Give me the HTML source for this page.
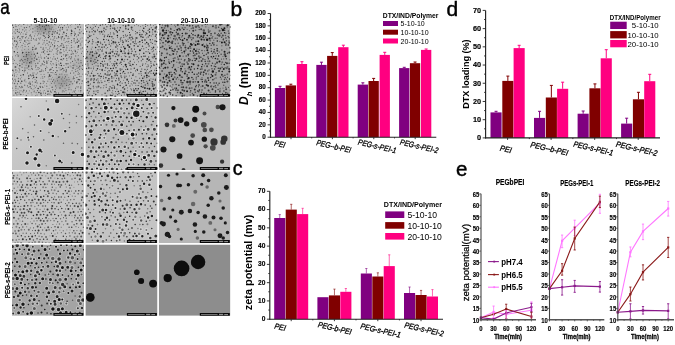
<!DOCTYPE html>
<html><head><meta charset="utf-8"><style>
html,body{margin:0;padding:0;background:#fff;}
svg{display:block;}
text{font-family:"Liberation Sans", sans-serif;}
svg{will-change:transform;}
</style></head><body>
<svg width="675" height="345" viewBox="0 0 675 345">
<rect width="675" height="345" fill="#fff"/>
<defs><filter id="bl2" x="-50%" y="-50%" width="200%" height="200%"><feGaussianBlur stdDeviation="3"/></filter><filter id="bl1" x="-50%" y="-50%" width="200%" height="200%"><feGaussianBlur stdDeviation="0.6"/></filter><filter id="bl15" x="-50%" y="-50%" width="200%" height="200%"><feGaussianBlur stdDeviation="0.7"/></filter><linearGradient id="g10" x1="0" y1="0" x2="1" y2="1"><stop offset="0" stop-color="#fff" stop-opacity="0.2"/><stop offset="1" stop-color="#000" stop-opacity="0.06"/></linearGradient><clipPath id="c00"><rect x="12" y="24" width="72" height="72.8"/></clipPath><clipPath id="c01"><rect x="85.4" y="24" width="72.1" height="72.8"/></clipPath><clipPath id="c02"><rect x="158.8" y="24" width="71.6" height="72.8"/></clipPath><clipPath id="c10"><rect x="12" y="98" width="72" height="72.1"/></clipPath><clipPath id="c11"><rect x="85.4" y="98" width="72.1" height="72.1"/></clipPath><clipPath id="c12"><rect x="158.8" y="98" width="71.6" height="72.1"/></clipPath><clipPath id="c20"><rect x="12" y="171.4" width="72" height="71.8"/></clipPath><clipPath id="c21"><rect x="85.4" y="171.4" width="72.1" height="71.8"/></clipPath><clipPath id="c22"><rect x="158.8" y="171.4" width="71.6" height="71.8"/></clipPath><clipPath id="c30"><rect x="12" y="244.5" width="72" height="71.3"/></clipPath><clipPath id="c31"><rect x="85.4" y="244.5" width="72.1" height="71.3"/></clipPath><clipPath id="c32"><rect x="158.8" y="244.5" width="71.6" height="71.3"/></clipPath></defs><g clip-path="url(#c00)"><rect x="12" y="24" width="72" height="72.8" fill="#bfbfbf" /><ellipse cx="44" cy="27" rx="9" ry="5" fill="#444" opacity="0.5" filter="url(#bl2)"/><ellipse cx="28" cy="58" rx="7" ry="8" fill="#444" opacity="0.3" filter="url(#bl2)"/><ellipse cx="62" cy="82" rx="9" ry="7" fill="#444" opacity="0.28" filter="url(#bl2)"/><ellipse cx="78" cy="64" rx="6" ry="6" fill="#444" opacity="0.15" filter="url(#bl2)"/><path d="M12.44 25.27h0M23.76 24.25h0M48.47 25.41h0M54.78 24.17h0M79.59 24.62h0M71.48 30.15h0M75.28 28.57h0M19.13 32.18h0M52.9 31.81h0M25.95 34.21h0M79.84 32.98h0M83.39 33.49h0M18.17 36.39h0M22.11 36.68h0M30.04 35.84h0M62.48 36.81h0M58.72 37.45h0M61.36 38.04h0M74.11 38.82h0M78.79 41.01h0M38.97 43.23h0M49.33 42.05h0M61.83 43.77h0M16.65 44.73h0M60.93 45.86h0M32.84 47.52h0M32.64 49.58h0M60.69 49.46h0M28.8 52.5h0M61.04 52.69h0M75.44 51.54h0M34.34 54.35h0M18.21 55.96h0M27.69 58.83h0M44.52 57.96h0M55.25 59.12h0M63.54 58.83h0M78.12 59.33h0M31.13 61.79h0M42.26 64.1h0M66.11 63.77h0M79.75 66.21h0M68.27 67.31h0M24.91 70.26h0M49.81 70.07h0M50.95 69.25h0M57 70.76h0M66.39 70.03h0M40.04 71.62h0M66 71.65h0M12.38 75.27h0M30.38 74.92h0M28.64 76.06h0M12.34 79.12h0M78.29 79.43h0M79.54 79.8h0M30.13 86.71h0M52.15 87.23h0M59.98 87.92h0M80.72 88.09h0M23.77 90.22h0M20.8 94.56h0M47.82 94.13h0" stroke="#555" stroke-width="1.5" stroke-linecap="round"/><path d="M15.67 24.84h0M19.78 24.19h0M40.74 24.94h0M59.59 25.23h0M75.73 24.6h0M14.1 31.81h0M21.53 32.41h0M24.62 31.18h0M57.76 30.68h0M74.26 32.01h0M20.43 33.99h0M78.24 34.69h0M13.02 36.75h0M26.58 36.8h0M68.22 36.65h0M71.15 35.66h0M22.56 38.02h0M31.5 38.43h0M36.52 38.85h0M82.17 38h0M19.71 40.48h0M39.74 39.73h0M23.33 43.3h0M29.91 43.12h0M65.19 42.53h0M42.83 44.24h0M45.54 45.05h0M28.53 46.55h0M53.99 47.92h0M62.82 47.47h0M17.11 48.92h0M36.4 48.92h0M49.49 48.79h0M63.6 49.96h0M75.52 50.37h0M78.1 49.59h0M41.74 52.28h0M64.1 51.61h0M77.51 52.2h0M17.05 54.39h0M22.3 53.36h0M44.82 53.77h0M59.98 53.69h0M67.95 54.85h0M15.64 55.75h0M46.54 56.59h0M78.26 55.64h0M74.46 58.98h0M58.64 61.13h0M16.01 63.38h0M50.4 63.77h0M56.13 62.92h0M58.84 64h0M26.05 65.3h0M31.53 66.35h0M74.86 65.07h0M14.71 67.01h0M39.55 68.32h0M59.99 67.88h0M65.8 67.68h0M77.08 68.35h0M28.83 69.38h0M72.11 70.7h0M75.33 69.66h0M79.39 69.32h0M37.5 72.95h0M41.58 71.41h0M44.05 74.44h0M75.14 75.28h0M82.73 74.19h0M42.27 76.69h0M59.82 76.7h0M62.5 77.1h0M32.76 78.63h0M64.51 78.33h0M13.5 80.89h0M74.39 81.11h0M59.04 83.33h0M64.32 83.44h0M79.43 83.69h0M81.82 83.56h0M32.3 84.98h0M36.52 85.86h0M42.29 86.59h0M18.04 88.91h0M28.28 87.43h0M35.29 87.61h0M65.08 88.68h0M15.95 90.4h0M20.99 90.81h0M40.24 90.73h0M55.58 89.66h0M65.97 90.57h0M43.45 93.02h0M62.25 91.91h0M19.04 94.12h0M40.47 94.9h0M56.01 94.76h0M64.09 95.03h0" stroke="#666" stroke-width="1" stroke-linecap="round"/><path d="M18.51 25.59h0M51.54 24.77h0M55.9 24.95h0M70.26 25.46h0M77.44 24.22h0M21.13 26.15h0M35.05 27.41h0M49.39 26.94h0M12.02 30h0M19.56 28.97h0M30.71 29.17h0M53.83 29.8h0M26.87 32.25h0M35.1 31.09h0M45.33 31.14h0M79.08 32.36h0M81.31 31.58h0M12.47 33.18h0M23.14 33.94h0M23.61 36.64h0M37.54 35.3h0M76.49 36.76h0M67.61 38.71h0M80.3 38.94h0M61.42 39.79h0M66.3 41.46h0M82.12 40.96h0M26.05 42.38h0M67.3 41.98h0M81.91 42.17h0M13.44 45.02h0M24.98 44.68h0M38 44.34h0M18.52 46.67h0M49.81 47.1h0M21.92 50.11h0M24.7 49.44h0M28.54 49.37h0M74.21 50.2h0M31 51.96h0M67.34 52.52h0M82.29 51.31h0M40.54 55.02h0M53.49 54.28h0M56.12 53.37h0M76.11 53.29h0M30.81 56.67h0M41.65 58.34h0M50.43 57.81h0M68.86 57.84h0M56.64 60.58h0M19.68 63.43h0M76.64 62.39h0M46.26 66.22h0M51.74 65.01h0M59.37 65.1h0M70.1 65.92h0M71.01 66.92h0M36.17 69.74h0M13.67 71.81h0M34.06 72.9h0M63.04 71.89h0M78.42 72.55h0M41.03 74.44h0M51.13 75.36h0M68.75 77.55h0M81.09 76.58h0M24.97 79.38h0M35.03 79.49h0M25.97 81.95h0M68.97 81.42h0M77.99 81.27h0M36.77 82.8h0M37.61 83.05h0M46.63 83.61h0M60.78 85.56h0M68.15 85.5h0M78.35 86.64h0M49.09 88.63h0M56.59 87.96h0M78.05 87.71h0M29.48 90.82h0M44.46 90.45h0M75.53 90.29h0M19.47 92.72h0M28.03 93.28h0M48.98 93.48h0M31.99 95.03h0M35.4 95.6h0M45.26 95.52h0M60.02 95.41h0M68.02 95.61h0M70.14 95.15h0" stroke="#777" stroke-width="1" stroke-linecap="round"/><path d="M27.5 25.05h0M66.25 27.55h0M70.98 27.06h0M44.22 29.34h0M55.99 28.78h0M83.06 30.05h0M29.22 30.7h0M41.55 31.44h0M35.23 33.77h0M70.46 33.96h0M44.61 38.41h0M42.54 39.97h0M76.93 40.22h0M69.08 43.48h0M50.22 44.96h0M68.16 45.57h0M20.77 47.01h0M22.55 47.81h0M70.03 48.07h0M74.11 46.99h0M33.41 51.85h0M51.39 51.59h0M18.82 55.08h0M66.67 55.72h0M39.27 59.39h0M12.96 61.03h0M25.74 61.09h0M48.59 60.37h0M62.47 60.15h0M73.96 63.79h0M53.8 64.69h0M66.42 64.92h0M58.37 67.81h0M81.73 68.55h0M17.32 70.88h0M30.1 69.87h0M17.2 74.64h0M54.29 74.24h0M16.49 76.41h0M21.37 77.31h0M52.59 77.42h0M40.82 78.23h0M50.29 81.8h0M44.72 85.8h0M49.99 85.19h0M34.07 88.63h0M46.92 88.85h0M13.17 90.56h0M19.43 90.92h0M32.92 89.66h0M34.27 90.58h0M43.24 90.99h0M78.76 90.89h0M25.73 92.28h0M66.26 93.16h0M72.3 92.21h0M80.35 92.02h0M23.32 94.45h0" stroke="#8a8a8a" stroke-width="1" stroke-linecap="round"/><path d="M31.22 24.9h0M13.38 27.43h0M16 26.63h0M26.72 27.46h0M37.12 26.52h0M42.57 26.33h0M58.49 27.2h0M60.4 27.75h0M80.58 27.18h0M17.43 29.79h0M22.82 29.77h0M32.89 28.79h0M51.14 29.12h0M59.92 29.91h0M79.72 29.79h0M17.31 31.58h0M48.41 32.03h0M49 33.93h0M66.55 33.63h0M31.32 36.94h0M48.43 35.65h0M49.38 36.39h0M58.62 36.47h0M74.52 35.63h0M78.23 35.29h0M17.56 37.75h0M20.01 38.54h0M25.37 37.8h0M33.62 38.79h0M38.91 38.25h0M45.67 37.68h0M77.48 39.17h0M31.15 40.26h0M44.27 40.73h0M53.08 39.9h0M58.09 41.5h0M71.44 40.6h0M12.01 43.78h0M17.47 43.01h0M47.06 43.41h0M51.3 42.89h0M75.3 42.98h0M52.42 44.78h0M63.27 45.15h0M40.93 47.29h0M66.86 47.89h0M82.36 47.93h0M66.1 50.12h0M69.24 50.33h0M17.64 52.44h0M26.18 52.36h0M47.15 51.77h0M57.19 51.88h0M59.9 52.17h0M57.17 54.21h0M23.81 56.52h0M35.42 56.06h0M61.43 56.41h0M65.4 56.14h0M83.48 56.49h0M12.97 59.05h0M24.99 59.5h0M31.96 58.86h0M57.54 58.22h0M22.75 60.76h0M34.19 60.72h0M72.53 61.4h0M22.11 64.11h0M23.96 62.42h0M82.54 65.4h0M28.68 66.89h0M38.03 67.65h0M45.46 68.52h0M52.25 67.56h0M19.73 69.95h0M22.68 70.54h0M45.47 70.1h0M82.46 69.42h0M48.04 72.67h0M51.05 72.56h0M55.69 72.48h0M70.58 73.15h0M73.82 72.99h0M75.86 71.56h0M20.82 75.38h0M14.43 75.93h0M65.44 76.77h0M73.48 77.04h0M76.92 77.55h0M15.02 79.29h0M53.71 79.83h0M66.9 79.89h0M73.17 78.8h0M74.13 78.41h0M15.65 81.05h0M29.91 82.14h0M36.34 80.87h0M43.13 81.18h0M52.56 81.39h0M76.98 81.41h0M17.35 83.81h0M69.81 84.41h0M19.34 86.72h0M27.36 85.9h0M55.75 85.91h0M66.42 85.35h0M21 87.68h0M40.37 87.34h0M42.88 87.49h0M75.64 88.27h0M26.45 90.97h0M37.32 90.64h0M50.43 91.18h0M52.8 89.8h0M74.03 91.07h0M17.84 92.27h0M23.02 91.9h0M45.46 93.22h0M58.67 93.08h0M16.93 94.93h0M26.27 95.58h0M41.64 95.22h0M75.8 94.04h0" stroke="#333" stroke-width="1" stroke-linecap="round"/><path d="M35.83 25.03h0M71.58 24.12h0M39.12 31.69h0M46.76 33.96h0M61.21 36.84h0M28.56 38.33h0M54.22 38.19h0M21.08 40.09h0M27.25 40.19h0M66.49 45.85h0M58.99 46.84h0M44.47 50.38h0M49.48 54.28h0M69.43 56.63h0M52.7 58.96h0M75.25 60.6h0M78.27 60.57h0M78.72 63.28h0M76.86 66.23h0M43.26 70.91h0M24.37 71.82h0M14.4 74.02h0M64.81 74.85h0M79.62 76.57h0M57.16 78.79h0M47.72 81.25h0M55.35 81.29h0M65.21 81.3h0M43.37 83.18h0M66.56 83.19h0M76.96 86.7h0M80.85 86.44h0M69.1 87.43h0M31.44 92.77h0M64.17 91.82h0" stroke="#8a8a8a" stroke-width="1.5" stroke-linecap="round"/><path d="M39.37 24.98h0M46.29 25.26h0M62.52 27.8h0M77.96 27.09h0M45.48 29.3h0M63.79 32.23h0M71.74 31.29h0M43.84 33h0M52.23 34.37h0M57.19 33.03h0M71.52 33.52h0M75.07 34.04h0M66.16 35.72h0M48.5 37.54h0M14.73 41.08h0M24.77 40.91h0M77.19 42.29h0M54.57 46.03h0M78.55 45.85h0M63.9 47.22h0M78.06 47.08h0M14.31 51.68h0M22.73 52.4h0M43.44 52.11h0M26.6 54.7h0M37.39 53.33h0M48.23 54.54h0M66.05 54.97h0M11.8 57.1h0M36.8 59.25h0M48.19 58.17h0M61.1 59.39h0M29.66 62.82h0M46.92 62.98h0M60.72 63.21h0M19.86 65.84h0M28.68 66.02h0M56.45 65.09h0M61.3 65.44h0M15.66 67.02h0M62.79 68.47h0M73.03 67.94h0M12.84 70.34h0M23.34 74.75h0M33.1 75.2h0M49.46 75.05h0M33.74 77.22h0M36.49 77.46h0M49.9 76.28h0M58.87 77.33h0M28.81 78.38h0M18.47 81.34h0M21.77 81.33h0M30.25 84.12h0M76.82 82.87h0M38.15 88.62h0M48 91.22h0M15.79 92.98h0M38.89 92.38h0M40.91 93.2h0M54.94 91.87h0M78.01 95.46h0" stroke="#333" stroke-width="1.5" stroke-linecap="round"/><path d="M61.22 24.22h0M64.32 25.57h0M67.41 24.74h0M44.52 26.85h0M52.07 27.27h0M68.43 27.13h0M25.96 29.93h0M40.38 29.04h0M49.7 28.86h0M62.27 29.48h0M37.26 31.36h0M60.09 30.95h0M30.31 34.73h0M40.82 34.09h0M62.8 34.24h0M64.03 32.99h0M34.49 35.99h0M52.42 36.39h0M14.44 38.14h0M40.7 37.99h0M50.75 39.17h0M56.83 38.28h0M28.89 40.89h0M35.11 39.95h0M36.37 40.22h0M63.91 40.09h0M20.35 42.45h0M43.99 42.84h0M54.34 43h0M80.21 43.3h0M27.65 44.24h0M34.62 45.87h0M48.26 45.01h0M57.51 45.59h0M71.3 45.41h0M12.22 47.91h0M25.06 46.51h0M46.03 47.8h0M50.72 46.55h0M57.44 48.16h0M47.89 49.68h0M52.24 49.93h0M71.28 50.38h0M80.85 48.88h0M72.17 51.85h0M28.89 54.79h0M31.69 54.27h0M63.7 54.82h0M81.45 53.37h0M38.8 57.22h0M41.02 57.12h0M53.83 56.79h0M14.59 60.39h0M27.64 60.63h0M39.28 61.17h0M66.88 60.39h0M80.94 60.54h0M26.85 63.05h0M35.4 63.72h0M44.64 62.48h0M53.08 63.61h0M70.76 62.84h0M17.37 64.73h0M63.93 65.5h0M19.01 68.37h0M35.41 67.12h0M46.97 67.65h0M32.46 69.42h0M38.08 69.37h0M53.33 70.5h0M60.11 70.03h0M77.8 70.85h0M16.01 72.25h0M19.08 72.08h0M27.47 73.04h0M32.88 73.1h0M52.85 72.76h0M36.17 74.25h0M59.84 74.3h0M61.89 74.11h0M66.97 74.88h0M79.43 73.87h0M31.65 75.97h0M48.34 76.83h0M20.41 78.95h0M42.85 78.24h0M49.09 79.14h0M51.23 79.15h0M69.08 79.71h0M32.35 81.83h0M44.46 81.75h0M57.47 80.76h0M62.98 81.06h0M51.33 83.36h0M54.32 83h0M34.2 85.96h0M12.27 88.13h0M71.13 89.79h0M36.13 92.73h0M69.67 93.19h0M13.95 95.24h0M37.05 95.09h0M50.01 94.57h0M65.04 95.7h0" stroke="#555" stroke-width="1" stroke-linecap="round"/><path d="M24.45 27.69h0M67.14 29.96h0M49.82 31.42h0M55.26 31.45h0M59.41 34.3h0M43.31 35.56h0M44.46 36.28h0M16.63 41.36h0M28.92 43.58h0M15.93 46.86h0M36.04 48.29h0M35.23 49.28h0M43.09 49.36h0M49.82 51.22h0M71.28 54.16h0M73.11 53.64h0M26.25 56.6h0M71.44 56.93h0M21.43 59.47h0M34.58 57.98h0M70.8 58.74h0M20.09 60.72h0M43.71 61.2h0M46.75 61.33h0M51.05 61.6h0M37.85 63.15h0M67.96 63.73h0M81.03 62.74h0M35.98 65.79h0M73.17 65.39h0M31.81 68.4h0M56.31 67.42h0M15.77 70.08h0M61.36 69.44h0M63.97 70.25h0M56.18 74.41h0M35.31 82.21h0M70.95 81.74h0M82.27 81.02h0M14.55 83.54h0M40.56 83.6h0M61.47 83.69h0M15.92 86.14h0M40.07 86.47h0M80.75 90.65h0" stroke="#666" stroke-width="1.5" stroke-linecap="round"/><path d="M29.63 26.77h0M39.4 27.27h0M15.81 29.66h0M37.66 28.88h0M32.75 31.99h0M15.34 33.34h0M38.61 33.75h0M54.32 32.96h0M54.63 36.84h0M12.55 38.8h0M64.44 38.5h0M68.87 38.58h0M46.92 40.44h0M55.03 40.74h0M68.56 41.46h0M74.1 41.1h0M71.48 42.51h0M22.09 45.39h0M80.69 44.98h0M43.4 48.12h0M71.63 47.56h0M56.33 49h0M57.84 50.45h0M75.58 55.88h0M66.64 58.46h0M13.28 63.61h0M31.25 62.92h0M40.92 65.79h0M44.09 64.8h0M22.02 67.27h0M24.93 67.99h0M27.12 68.06h0M78.68 67.64h0M41.65 69.98h0M78.09 74.27h0M44.54 76.63h0M18.51 78.51h0M61.65 79h0M24.55 80.82h0M12.12 82.99h0M20.78 83.34h0M28.91 83.34h0M72.5 83.7h0M21.73 86.53h0M24.65 85.31h0M46.77 86.32h0M62.57 86.09h0M15.86 88.26h0M22.39 87.25h0M31.29 88.57h0M62.99 90.83h0M68.82 89.5h0M34.16 91.85h0M51.14 92.23h0M56.06 92.91h0M74.46 91.95h0M83.4 93.32h0" stroke="#777" stroke-width="1.5" stroke-linecap="round"/><rect x="53.4" y="94" width="30" height="3" fill="#080808" /><rect x="54.6" y="95.1" width="16.6" height="0.7" fill="#a0a0a0" /><rect x="72.6" y="94.8" width="4.2" height="1.4" fill="#909090" /><rect x="77.8" y="95" width="3.8" height="1.2" fill="#888" /></g><g clip-path="url(#c01)"><rect x="85.4" y="24" width="72.1" height="72.8" fill="#bcbcbc" /><ellipse cx="91.4" cy="58" rx="6" ry="6" fill="#444" opacity="0.3" filter="url(#bl2)"/><ellipse cx="147.4" cy="84" rx="8" ry="6" fill="#444" opacity="0.12" filter="url(#bl2)"/><path d="M85.36 25.75h0M128.53 25.31h0M131.62 27.46h0M156.44 26.89h0M155.23 31.57h0M115.39 42.47h0M112.5 51.64h0M96.62 53.16h0M110.27 58.4h0M145.59 72.9h0M88.18 81.84h0M115.27 96.39h0" stroke="#444" stroke-width="2" stroke-linecap="round"/><path d="M88.2 24.29h0M94.1 24.78h0M105.63 24.54h0M90.48 27.37h0M98.44 27.6h0M145.44 26.41h0M151.24 27.71h0M93.45 30.48h0M103.7 30.4h0M132.78 30.22h0M148.08 30.52h0M156.41 28.9h0M146.04 32.54h0M104.77 35.22h0M108.19 34.73h0M123.3 35.48h0M145.45 34.93h0M117.47 37.27h0M156.67 37.91h0M113.07 38.6h0M135.39 40.02h0M100.79 43.62h0M134.32 43.57h0M143.78 48.84h0M148.51 49.56h0M148.12 51.88h0M153.58 50.92h0M92.3 55.02h0M103.28 53.95h0M122.87 53.4h0M109.07 59.78h0M92.26 64.39h0M136.51 64.64h0M87.97 65.87h0M100.64 66.03h0M107.67 65.37h0M140.15 66.42h0M148.5 66.07h0M91.08 68.25h0M93.48 68.76h0M125.75 69.54h0M147.33 69.38h0M150.5 67.71h0M96.23 70.39h0M154.76 70.3h0M100.54 73.7h0M114.42 72.83h0M122.71 72.86h0M139 73.7h0M141.11 73.82h0M87.44 75.07h0M86.46 78.89h0M97.89 78.87h0M103.47 78.16h0M116.48 78.38h0M139.73 78.28h0M93.84 80.65h0M98.24 81.09h0M132.07 81.42h0M146.79 81.31h0M86.34 82.54h0M90.62 84.03h0M99.67 82.81h0M122.14 83.22h0M135.68 83.15h0M113.02 85.35h0M114.39 86.31h0M116.97 89.06h0M155.51 87.91h0M96.12 91.06h0M109.79 90.41h0M120.95 90.45h0M131.4 89.91h0M140.75 91.04h0M151.33 90.44h0M93.95 93.25h0M97.95 92.52h0M113 93.99h0M89.78 95.21h0M117.69 94.6h0M124.25 94.89h0" stroke="#333" stroke-width="1" stroke-linecap="round"/><path d="M92.48 24h0M96.59 24.7h0M119.92 23.87h0M134.46 25.59h0M142.9 25.63h0M153.51 25.61h0M140.52 26.55h0M139.78 30.36h0M110.58 32.57h0M96.35 37.7h0M146.71 37.89h0M138.15 42.36h0M92.21 47.15h0M86.42 49.54h0M102.57 49.27h0M106.26 48.67h0M113.06 49.77h0M98.93 51.12h0M119.42 54.19h0M124.46 55.87h0M97.86 63.4h0M111.88 63.65h0M96.01 65.72h0M109.27 65.49h0M131.37 66.06h0M107.51 71.56h0M87.97 78.69h0M100.58 78.32h0M144.13 77.66h0M150.93 78.76h0M109.41 80.33h0M123.64 80.35h0M88.04 83h0M109 82.44h0M151.33 83.37h0M89.53 85.17h0M96.11 86.55h0M132.53 85.06h0M143.64 86.08h0M154.15 91.02h0M116.05 93.79h0M130.09 93.17h0M129.06 94.6h0M145.75 95.16h0M148.38 95.56h0" stroke="#6a6a6a" stroke-width="1" stroke-linecap="round"/><path d="M100.31 25.16h0M110.48 25.2h0M112.93 28.21h0M119.36 30.22h0M142.68 30.4h0M99.36 31.65h0M123.12 31.42h0M143.63 31.63h0M141.99 34.41h0M155.48 36.17h0M86.08 40.2h0M120.47 38.98h0M132.72 38.67h0M88.32 42.55h0M97.4 44.69h0M99 46.8h0M104.31 47.08h0M123.65 46.8h0M142.5 46.26h0M149.06 46.1h0M131.45 49.1h0M135.52 51.81h0M106.45 53.37h0M114.6 53.64h0M131.28 53.4h0M154.05 54.17h0M96.36 57.48h0M141.39 56.83h0M103.6 58.58h0M142.77 59.21h0M149.44 59.63h0M95.94 62.21h0M97.74 60.55h0M102.31 61.51h0M130.23 61.37h0M148.83 60.46h0M98.09 65.88h0M151.34 65.96h0M86.56 68.39h0M105.7 67.87h0M115.97 67.74h0M120.16 69.04h0M134.31 68.24h0M137.2 69.5h0M88.17 71.81h0M102.17 70.4h0M109.11 70.68h0M149.87 71.71h0M85.79 74.24h0M91.52 73.2h0M120.41 73.52h0M117.19 75.39h0M121.01 76.02h0M148.93 76.13h0M111.87 77.89h0M118.78 78.19h0M146.83 77.5h0M90.89 80.05h0M115.76 80.64h0M118.94 79.9h0M152.24 81.75h0M125.28 82.68h0M120.23 85.4h0M109.21 89.04h0M87.38 90.26h0M157.79 90.65h0M105.1 93.27h0M141.79 93.28h0M106.69 95.98h0M131.27 95.49h0" stroke="#444" stroke-width="1.5" stroke-linecap="round"/><path d="M102.61 24.65h0M123.23 25.58h0M105.88 29.46h0M92.13 31.66h0M102.82 34.17h0M127.34 35.5h0M152.79 34.26h0M123.72 37.13h0M122.45 40.43h0M100.48 42.15h0M135.35 41.79h0M111.65 43.47h0M110.61 45.93h0M117.71 46.01h0M121.17 47.19h0M110.19 52.13h0M136.08 54.48h0M152.24 57.07h0M153.08 58.08h0M124.02 61.22h0M141.36 60.65h0M94.43 63.29h0M129.81 63.2h0M151 63.22h0M147.01 66.84h0M107.76 68.27h0M130.97 68.91h0M120.53 70.53h0M133.31 73.92h0M121.54 77.54h0M153.15 79.28h0M134.62 80.17h0M106.29 84.84h0M117.69 85.05h0M129.95 85.97h0M100.81 87.81h0M89.23 91.35h0M134.18 92.21h0M138.51 96.02h0" stroke="#6a6a6a" stroke-width="1.5" stroke-linecap="round"/><path d="M108.49 24.16h0M136.73 24.55h0M138.36 25.7h0M147.7 25.44h0M114.67 27.69h0M117.6 27.86h0M152.33 32.09h0M85.03 33.96h0M100.04 33.9h0M151.26 36.07h0M106.38 39.64h0M125.29 39.82h0M152.58 39.67h0M96.04 42.75h0M109.23 42.11h0M113.26 43.82h0M139.88 44.67h0M91.32 49.14h0M141.62 48.68h0M151.29 49.61h0M115.87 51.23h0M128.98 51.89h0M157.17 51.96h0M86.81 53.88h0M100.55 57.41h0M121.29 56.67h0M87.82 58.63h0M124.78 59.41h0M137.16 59.75h0M134.48 62.25h0M138.45 61.78h0M147.93 64.75h0M93.73 67.03h0M117.52 65.61h0M123.31 66.7h0M99.84 69.44h0M92.33 71.1h0M146.37 70.9h0M151.02 73.57h0M95.25 75.51h0M129.37 75.92h0M113.88 77.98h0M101.03 80.79h0M135.85 85.4h0M96.91 87.71h0M103.34 87.82h0M127.35 87.94h0M112.71 90.75h0M124.15 89.72h0M127.5 90.71h0M111.97 92.58h0M150.95 93.06h0M154.73 96.42h0" stroke="#555" stroke-width="1" stroke-linecap="round"/><path d="M113.91 24.84h0M125.7 25.45h0M106.87 26.83h0M110.46 26.42h0M92.06 29.11h0M86.61 31.46h0M89.49 32h0M157.91 32.31h0M114 33.92h0M104.39 36.82h0M135.94 37.92h0M148.24 37.12h0M92.88 41.63h0M118.74 42.56h0M102.53 44.44h0M109.18 44.13h0M130.55 44.12h0M136.09 43.84h0M152.82 48.66h0M117.47 51.86h0M132.04 51.19h0M89.69 54.35h0M108.9 53.25h0M112.98 55.68h0M115.55 56.59h0M125.74 56.42h0M148.62 56.99h0M94.93 59.6h0M127.5 59.48h0M87.4 61.52h0M150.81 61.46h0M85.53 64.35h0M102.89 64.57h0M144.92 69.5h0M156.3 68.2h0M124.85 73.58h0M130.83 72.58h0M148.31 72.88h0M90.19 76.01h0M144.31 76.27h0M124.78 77.82h0M96.54 79.96h0M143.37 80.73h0M97.98 82.77h0M101.85 82.48h0M93.34 86.26h0M110.07 86.7h0M145.33 85.08h0M89.02 88.25h0M90.64 88.79h0M93.81 91.23h0M97.96 90.65h0M145.4 91.15h0M88.48 92.95h0M118.98 93.38h0M147.52 93.31h0" stroke="#555" stroke-width="1.5" stroke-linecap="round"/><path d="M145.52 23.88h0M143.78 28.24h0M155.25 28.1h0M85.28 29.05h0M114.78 29.1h0M152.74 29.84h0M117.39 31.98h0M149.55 31.89h0M117.38 35.48h0M130.11 34.9h0M139.79 34.81h0M146.82 33.81h0M88 37.74h0M89.76 36.14h0M109.64 36.57h0M136.85 37.9h0M142.93 37.34h0M103.72 39.61h0M142.13 40.21h0M144.9 40h0M133.08 42.11h0M139.79 41.67h0M146.7 42.59h0M156.73 41.38h0M105.87 44.96h0M148.21 43.94h0M87.37 46.85h0M95.64 47.46h0M115.89 46.91h0M137.96 46.19h0M153.59 47.2h0M92.34 51.88h0M106.07 52.14h0M99.55 54.94h0M110.25 53.25h0M116.8 54.04h0M133.99 54.93h0M143.79 53.21h0M149.68 53.32h0M86.9 57.14h0M92.72 55.84h0M98.65 56.24h0M106.01 55.73h0M85.8 58.52h0M117.55 59.75h0M155.91 58.76h0M90.85 61.1h0M100.82 63.59h0M113.97 64.02h0M132.89 64.57h0M156.85 64.13h0M103.22 65.96h0M126.31 66.8h0M130.12 65.28h0M158.2 66.02h0M88.8 68.1h0M97.47 68.79h0M110.75 68.57h0M127.57 69.2h0M112.03 70.79h0M123.52 71.38h0M156.66 70.49h0M105.15 74h0M153.56 73.23h0M101.09 76.39h0M109.08 75.05h0M132.89 75.3h0M94.16 79.01h0M108.91 78.68h0M127.13 79.28h0M142.74 78.3h0M107.84 80.55h0M141.47 80.7h0M155.37 79.93h0M93.99 82.56h0M117.51 84.26h0M152.73 84.07h0M88.25 85.39h0M126.13 85.3h0M141.27 86.55h0M111.95 87.98h0M114.43 87.92h0M122.94 87.76h0M135.8 88.75h0M138.28 88.71h0M111.96 95.54h0M151.34 95.25h0" stroke="#1a1a1a" stroke-width="1.5" stroke-linecap="round"/><path d="M150.46 24.91h0M95.36 26.38h0M97.44 30.07h0M110.29 28.74h0M104.3 31.75h0M129.58 32.51h0M93.84 34.25h0M125.39 35h0M121.05 37.64h0M92.46 39.8h0M130.99 39.91h0M104.74 42.14h0M142.59 42.35h0M150.94 42.29h0M92.18 43.83h0M116.46 44.96h0M119.62 44.5h0M145.13 43.85h0M152.31 43.45h0M98.02 49.74h0M100.23 49.34h0M110.55 49.62h0M134.45 49.17h0M124.14 51.14h0M146.02 51.67h0M156.75 54h0M134.28 56.17h0M137.2 56.59h0M145.65 56.15h0M91.01 58.24h0M104.64 61.22h0M114.91 61.44h0M154.87 61.61h0M87.96 64h0M105.09 64.02h0M119.92 63.28h0M142.87 64.06h0M142.55 65.34h0M121.97 69.25h0M141.78 69.05h0M135.69 70.89h0M137.47 70.39h0M97.84 73.61h0M110.44 74.07h0M128.2 72.83h0M126.09 76.22h0M104.9 81.28h0M128.64 81.43h0M119.87 82.76h0M128.35 83.2h0M139.02 83.01h0M143.93 82.51h0M138.13 85.49h0M106.2 87.3h0M153.76 93.18h0M121.45 95.31h0M141.51 96.01h0" stroke="#1a1a1a" stroke-width="1" stroke-linecap="round"/><path d="M155.11 24.15h0M93.3 27.74h0M131.63 29.21h0M113.32 32.88h0M135.51 31.51h0M139.87 32.75h0M88.9 35.07h0M91.02 35.56h0M110.33 33.99h0M135.76 33.77h0M126.13 36.58h0M97.77 38.66h0M111.67 40.39h0M127.99 39.25h0M120.69 41h0M128.41 41.47h0M122.47 44.65h0M155.08 44.27h0M107.68 47.52h0M146.19 47.57h0M151.86 47.59h0M117.61 48.93h0M120.49 49.55h0M128.5 50.08h0M155.69 49.47h0M95.88 51.23h0M152.23 51.73h0M94.8 53.65h0M139.51 54.08h0M133.44 59.34h0M93.77 61.33h0M110.16 61.82h0M146.82 61.72h0M121.62 64.49h0M128.34 62.97h0M145.72 63.81h0M153.47 64.22h0M112.63 65.68h0M104.88 70.42h0M88.68 73.22h0M107.93 72.89h0M103.38 76.33h0M124.24 76.18h0M135.9 76.79h0M141.47 75.5h0M131.41 78.3h0M155.52 79.05h0M120.51 81.59h0M131.17 83.82h0M141.3 83.69h0M103.93 85.64h0M123.88 86.48h0M147.99 85.05h0M93.74 87.98h0M130.86 88.78h0M133.38 88.86h0M115.4 91.56h0M135.44 93.82h0M102 94.86h0M105.13 96h0M158.12 94.88h0" stroke="#444" stroke-width="1" stroke-linecap="round"/><path d="M87.26 27.6h0M120.29 27.73h0M125.65 26.67h0M116.31 30.63h0M125.86 28.82h0M128.34 29.29h0M149.4 29.23h0M137.17 32.87h0M149.49 35.4h0M156.18 34.86h0M107.56 36.16h0M111.88 36.71h0M131.98 37.21h0M108.48 40.29h0M150.32 39.83h0M89.31 41.35h0M155.06 41.12h0M85.02 44.76h0M101.94 47.32h0M134.19 45.83h0M87.52 51.78h0M102.04 50.88h0M105.07 56.61h0M143.98 56.28h0M105.67 58.19h0M138.64 58.08h0M120.9 62.3h0M107.43 63.98h0M114.44 65.73h0M154.04 65.31h0M102.14 69.54h0M113.37 68.32h0M140.92 71.54h0M151.31 70.74h0M107.13 75.06h0M111.73 76.44h0M105.9 77.65h0M127.13 80.05h0M137.02 80.68h0M149.51 80.17h0M133.95 82.97h0M147.59 83.18h0M154.38 85.11h0M124.65 88.96h0M142.88 87.32h0M147.37 88.41h0M107.75 90.73h0M118.28 91.47h0M136.96 90.4h0M143.23 91.49h0M87.77 95.57h0M92.23 95.68h0M95.7 94.62h0M110.46 95.23h0" stroke="#333" stroke-width="1.5" stroke-linecap="round"/><path d="M104.09 28.22h0M126.39 40.93h0M129.46 56.91h0M116.28 73.7h0M99.07 75.8h0M115.16 75.4h0M91.35 79.05h0M112.09 81.35h0M124.59 92.6h0" stroke="#6a6a6a" stroke-width="2" stroke-linecap="round"/><path d="M95.08 31.62h0M129.72 37.87h0M140.97 36.53h0M123.06 42.16h0M158.06 47.3h0M90.65 52.31h0M125.04 53.36h0M118.46 55.58h0M98.48 86.47h0M152.72 85.97h0M126.88 94.58h0" stroke="#555" stroke-width="2" stroke-linecap="round"/><path d="M101.52 31.85h0M98.09 42.09h0M113.35 41.88h0M127.89 45.3h0M129.34 47.11h0M154.41 56.38h0M147.36 59.04h0M116.53 63.58h0M93.65 75.64h0M154.73 75.1h0M144.87 87.96h0M134.09 90.6h0M123.06 92.27h0" stroke="#333" stroke-width="2" stroke-linecap="round"/><path d="M124.92 48.59h0M139.91 50.17h0M121.14 51.28h0M128.43 53.54h0M109.53 56.26h0M122 59.47h0M125.63 64.67h0M117.2 71.2h0M156.3 73.38h0M146.81 75.58h0M149.43 88.72h0M153.74 88.84h0M139.42 92.72h0" stroke="#1a1a1a" stroke-width="2" stroke-linecap="round"/><rect x="126.9" y="94" width="30" height="3" fill="#080808" /><rect x="128.1" y="95.1" width="16.6" height="0.7" fill="#a0a0a0" /><rect x="146.1" y="94.8" width="4.2" height="1.4" fill="#909090" /><rect x="151.3" y="95" width="3.8" height="1.2" fill="#888" /></g><g clip-path="url(#c02)"><rect x="158.8" y="24" width="71.6" height="72.8" fill="#a6a6a6" /><ellipse cx="162.8" cy="92" rx="12" ry="9" fill="#fff" opacity="0.35" filter="url(#bl2)"/><path d="M159.64 24.21h0M167.62 25.55h0M220.09 24.82h0M193.25 30.84h0M185.8 33.61h0M168.45 35.67h0M201.19 36.18h0M179.21 37.65h0M165.91 40.92h0M186.99 39.73h0M167.86 42.17h0M172.09 43.09h0M207.42 45.86h0M185.39 47.48h0M188.35 48.19h0M206.9 47.66h0M173.23 53.94h0M188.15 54.52h0M229.39 52.59h0M217 62.45h0M161.79 64.22h0M163.78 63.21h0M226.96 63.37h0M198.31 65.61h0M190.64 69.61h0M220.25 68.62h0M229.12 68.92h0M169.25 72.87h0M203.71 72.34h0M219.08 70.99h0M159.98 74.16h0M221.87 74.74h0M166.05 76.39h0M180.98 80.62h0M164.44 81.98h0M167.56 82.63h0M167.16 85.52h0M206.62 85.08h0M183.2 87.37h0M184.23 90.7h0M194.72 89.49h0M208.58 90.53h0M212.49 89.21h0M169.36 92.4h0M182.25 96.07h0M193.53 95.08h0" stroke="#333" stroke-width="2" stroke-linecap="round"/><path d="M162.65 25.04h0M175.37 26.75h0M205.87 26.89h0M168.19 30.78h0M218.56 33.6h0M225.92 33.2h0M177.55 39.9h0M196.9 49.13h0M159.51 51.56h0M176.42 54.06h0M189.92 53.8h0M202.49 53.29h0M188.4 55.78h0M168.86 59.77h0M212.67 58.1h0M221.61 59.17h0M223.76 58.96h0M184.96 68.82h0M214.23 78.82h0M226.36 79.28h0M158.66 88.2h0M228.59 87.41h0M166.56 89.58h0" stroke="#333" stroke-width="1" stroke-linecap="round"/><path d="M165.44 25.7h0M177.79 24.92h0M189.66 25.67h0M221.55 24.21h0M179.97 29.75h0M201.17 29.27h0M203.77 35.48h0M222.84 35.49h0M163.86 38.17h0M188.59 37.47h0M203.12 37.21h0M172.38 41.49h0M204.15 39.66h0M229.33 42.68h0M162.57 46.56h0M190.03 46.46h0M166.57 49.41h0M174.98 49.38h0M178.58 49.1h0M217.26 50.71h0M161.84 53.25h0M196.58 53.75h0M208.17 52.69h0M179.72 62.47h0M201.6 61.02h0M184.1 64.24h0M187.95 64.08h0M167.73 67.38h0M207.1 66.29h0M205.04 70.18h0M207.97 77.99h0M160.36 80.38h0M227.41 81.61h0M202.66 85.89h0M186.34 87.54h0M189.59 88.23h0M211.11 86.53h0M182.42 90.07h0M226.15 89.26h0M165.52 93.53h0M203.98 93.39h0M225.84 92.77h0M163.51 95.61h0" stroke="#444" stroke-width="2" stroke-linecap="round"/><path d="M171.4 24.32h0M202.15 25.7h0M207.22 24.15h0M213.02 25.38h0M170.7 28.47h0M185.02 27.72h0M195.65 30.21h0M199.23 29.58h0M208.39 29.92h0M210.03 30.92h0M228.35 30.94h0M210.97 35.39h0M225.42 35.56h0M215.22 38.17h0M217.1 38.15h0M175.4 39.71h0M175.31 43.87h0M178.24 43.35h0M199.34 43.94h0M190.75 48.22h0M221.83 49.99h0M212.41 53.4h0M215.23 53.21h0M177.68 57.1h0M173.32 58.6h0M181.26 59.34h0M194.27 58.37h0M204.98 59.67h0M165.87 64.29h0M225.14 67.67h0M209.07 69.98h0M158.73 72.92h0M216.19 72.72h0M196.28 77.26h0M216.02 78.06h0M166.29 79.52h0M196.27 79.01h0M195.39 81.73h0M161.12 85.55h0M172.88 84.79h0M223.71 85.21h0M215.89 87.42h0M225.75 87.2h0M219.96 90.26h0M177.55 92.49h0M192.46 93.52h0M201.56 92.36h0M215.39 92.33h0M190.25 94.93h0M206.47 96.32h0" stroke="#555" stroke-width="1.5" stroke-linecap="round"/><path d="M174.67 25.26h0M226.38 25.78h0M191.32 28.47h0M212.69 36.38h0M170.18 37.63h0M181.66 36.92h0M161.43 40.45h0M213.77 40.17h0M219.84 41.53h0M160.24 43.14h0M188.14 42.28h0M193.79 43.58h0M169.18 45.79h0M171.24 46.54h0M185.38 45.58h0M221.85 45.76h0M219.3 52h0M170.83 55.34h0M183.11 56.2h0M176.8 62.29h0M207.63 61.15h0M179.11 63.09h0M216.88 63.16h0M221.37 64.28h0M164.46 73.96h0M201.99 77.66h0M170.93 82.18h0M211.63 85.94h0M220.09 88.43h0M161.95 91.72h0M190.17 92.14h0M210.06 92.13h0" stroke="#6a6a6a" stroke-width="1.5" stroke-linecap="round"/><path d="M181.26 24.2h0M183.26 25.02h0M192.61 25.77h0M205.32 24.3h0M167.84 26.76h0M158.4 29.44h0M166.29 30.58h0M224.69 30.36h0M164.32 32.64h0M176.41 32.17h0M228.9 33.23h0M159.86 34.66h0M171.25 34.68h0M195.19 35.43h0M217.4 34.89h0M199.89 37.71h0M212.04 38.1h0M225.93 37.89h0M228.98 37.7h0M160.16 39.59h0M180.39 39.56h0M223.27 39.74h0M182.49 42.94h0M209.8 43.5h0M180.02 45.92h0M160.8 47.61h0M164.45 48.79h0M171.91 48.77h0M177.09 51.81h0M211.38 51.21h0M199.12 52.92h0M200.87 57.13h0M207.96 57.06h0M184.85 59.85h0M199.37 57.96h0M208.38 58.69h0M159.92 60.65h0M168.91 61.9h0M171.51 61.67h0M205.19 61.38h0M202.45 64.45h0M205.77 63.81h0M182.41 66.29h0M211.38 65.79h0M215.61 66.78h0M194.35 69.1h0M214.53 69.01h0M218.31 68.24h0M176.42 71.09h0M182.36 71.86h0M188.97 72.52h0M198.6 72.91h0M169.59 74.47h0M197.02 74.3h0M203.39 75.12h0M211.32 74.46h0M198.2 76.17h0M210.61 77.52h0M225.19 77.7h0M163.52 78.83h0M184.28 80.44h0M162.53 81.96h0M210.25 82.83h0M214.02 82.91h0M216.33 83.01h0M219.13 83.18h0M222.89 82.32h0M195.67 86.63h0M213.83 86.82h0M190.67 90.75h0M202.02 90h0M223.92 90.95h0M230.41 90.37h0M170.54 92.95h0M182.44 93.66h0M219.85 91.76h0M167.33 96.31h0M209.04 94.95h0" stroke="#333" stroke-width="1.5" stroke-linecap="round"/><path d="M187.08 25.19h0M161.87 27.8h0M179.02 28.4h0M212.94 26.5h0M183.87 29.47h0M172.54 32.76h0M182.3 33.49h0M211.06 33.63h0M224.53 32.86h0M192.98 34.75h0M207.26 35.55h0M173.79 38.71h0M184.48 38.41h0M217.31 40.97h0M163.04 42.74h0M183.88 43.53h0M212.66 43h0M226 43.94h0M183.12 45.01h0M228.27 45h0M217.16 48.79h0M172.32 50.76h0M173.89 51.23h0M190.4 51.05h0M193.58 53.1h0M166.31 57.2h0M203.96 55.59h0M211.25 56.75h0M213.57 56.4h0M218.65 56.03h0M160.31 59.28h0M164.62 57.83h0M188.73 58.86h0M202.89 59.01h0M215.37 58.38h0M164.35 60.64h0M195.11 60.44h0M169.52 63.14h0M224.25 64.59h0M191.56 66.85h0M201.73 66.84h0M197.59 68.48h0M162.08 70.98h0M174.32 72.81h0M192.3 72.32h0M201.02 72.16h0M222.22 71.6h0M172.05 74.82h0M194.24 74.25h0M200.54 73.93h0M163.4 77.59h0M171.54 76.25h0M191.89 77.48h0M201.99 79.51h0M208.54 80.22h0M212.92 79.79h0M229.58 78.89h0M182.84 82.63h0M202.35 81.73h0M206.57 81.98h0M224.81 82.13h0M178.91 85.17h0M176.43 88.19h0M160.12 91.15h0M170.75 90.36h0M175.95 90.08h0M197.82 91h0M199.41 89.91h0M215.51 90.94h0M160.65 95.23h0M172.72 94.91h0M201.95 95.22h0M229.6 95.55h0" stroke="#1a1a1a" stroke-width="1.5" stroke-linecap="round"/><path d="M198.19 25.82h0M193.07 28.04h0M219.61 30.65h0M160.2 33.58h0M208.79 31.94h0M214.86 33.25h0M164.74 34.3h0M193.14 38.08h0M197.64 36.91h0M213.84 44.76h0M181.07 47.63h0M208.01 47.47h0M213.91 51.86h0M167.18 53.58h0M194.84 55.26h0M198.82 56.35h0M178.45 59.18h0M189.98 59.63h0M217.64 59h0M209.47 61.15h0M226.76 68.22h0M185.62 71.16h0M206.09 73.84h0M215.5 74.68h0M187.8 78.69h0M205.48 80.18h0M193.18 82.08h0M204.91 81.65h0M164.05 84.99h0M199.02 85.11h0M162.14 87.03h0M164.9 88.4h0M163.59 90.46h0M172.95 89.52h0M177.97 90.26h0M158.54 93.55h0M184.22 95.61h0M200.27 96.39h0" stroke="#555" stroke-width="2" stroke-linecap="round"/><path d="M210.17 24.17h0M203.37 43.98h0M165.25 44.82h0M222.97 56.5h0M178.16 67.48h0M160.05 68.37h0M178.83 79.21h0M200.65 79.26h0M200.94 86.75h0" stroke="#555" stroke-width="1" stroke-linecap="round"/><path d="M215.97 25.41h0M199.13 27.17h0M218.63 27.28h0M221.56 28.5h0M170.94 29.21h0M178.46 33.44h0M187.07 33.62h0M221.15 33.33h0M182.5 35.82h0M228.18 36.39h0M161.48 37.64h0M221.67 37.23h0M223.45 38.9h0M191.71 39.78h0M226.43 40.66h0M228.99 41.11h0M211.18 45.3h0M225.82 45.18h0M214.33 49.38h0M181.34 50.26h0M185.88 50.06h0M198.15 51.48h0M201.94 50.52h0M169.56 54.63h0M182.04 52.81h0M206.37 54.14h0M221.11 54.16h0M227.47 53.32h0M161.4 55.27h0M193.31 55.75h0M226.36 58.83h0M184.4 60.63h0M192.4 60.47h0M198.89 61.36h0M225.61 62.43h0M173.64 64.7h0M182.07 64.11h0M191.86 63.73h0M212.48 63.37h0M215.28 63.98h0M229.11 63.21h0M161.43 65.94h0M172.4 67.54h0M173.52 66.08h0M180.71 66.33h0M214.27 66.19h0M222.07 67.36h0M163.47 68.54h0M200.54 69.35h0M211.96 68.69h0M171 72.31h0M180.81 70.83h0M207.78 70.99h0M187.19 74.63h0M224.88 75.19h0M177.5 77.5h0M181.19 76.92h0M182.38 77.29h0M187.07 76.21h0M220.45 77.22h0M176.3 78.95h0M193.12 79.15h0M224.45 79.58h0M158.46 82.35h0M181.13 82.43h0M170.15 85.91h0M176.08 84.48h0M190.05 84.01h0M196.38 85.53h0M215.37 85.72h0M217.94 84.89h0M230.58 85.79h0M181.4 87.26h0M191.84 88.01h0M218.1 89.59h0M195.27 92.18h0M198.76 91.79h0M227.81 93.15h0M176.11 95.76h0M197.42 95.96h0M218.06 94.74h0" stroke="#444" stroke-width="1.5" stroke-linecap="round"/><path d="M227.81 25.21h0M224.41 28.17h0M230.72 27.02h0M177.34 29.84h0M166.12 32.84h0M203.72 32.92h0M205.11 33.26h0M162.71 35.31h0M189.29 35.78h0M198.3 35.17h0M167.93 38.46h0M209.62 38.49h0M168.96 41.46h0M182.58 40.23h0M198.29 41.13h0M201.52 39.62h0M190.91 43.92h0M197.84 43.98h0M221.9 42.43h0M224.57 42.33h0M191.73 44.78h0M195.46 44.98h0M202.4 44.95h0M204.6 46.42h0M169.83 48.04h0M194.09 49.29h0M230.33 47.75h0M184.33 51.39h0M195.89 50.94h0M207.34 50.17h0M224.56 51.82h0M179.84 56.06h0M225.61 56.17h0M196.36 58.85h0M161.52 60.49h0M173.69 60.73h0M219.46 61.58h0M193.48 64.31h0M158.96 67.45h0M165.26 67.65h0M189.29 67.26h0M175.19 69.46h0M181.1 68.78h0M223.76 68.91h0M229.34 71.54h0M166.9 75.33h0M179.72 75.22h0M184.84 73.49h0M188.75 77.88h0M212.44 76.1h0M169.54 80.68h0M173.12 79.31h0M198.19 82h0M208.01 85.77h0M187.06 91.15h0M180.64 92.75h0M226.9 95.9h0" stroke="#1a1a1a" stroke-width="2" stroke-linecap="round"/><path d="M164.48 27.99h0M182.44 28.04h0M176.14 38.59h0M190.79 37.49h0M195.98 41.48h0M210.19 40.53h0M177.11 46.4h0M192.76 51.36h0M186.27 56.12h0M174.91 58.01h0M187.07 62.22h0M222.27 62.33h0M208.5 63.78h0M227.53 66.95h0M188.38 68.47h0M201.92 68.97h0M175.45 73.97h0M227.29 74.16h0M174.68 77.18h0M222.98 76.15h0M174.9 81.91h0M182.07 84.19h0M174.92 88.36h0M204.92 87.97h0M224.46 95.46h0" stroke="#6a6a6a" stroke-width="2" stroke-linecap="round"/><path d="M195.99 26.83h0M203.86 30.61h0M174.67 36.1h0M189.09 60.4h0M168.67 77.53h0" stroke="#555" stroke-width="2.5" stroke-linecap="round"/><path d="M208.87 27.91h0M226.87 48.79h0" stroke="#6a6a6a" stroke-width="1" stroke-linecap="round"/><path d="M215.93 27.57h0M214.11 95.83h0" stroke="#6a6a6a" stroke-width="2.5" stroke-linecap="round"/><path d="M227.18 27.06h0M174.19 30.5h0M191.44 33.42h0M179.83 35.18h0M205.95 37.77h0M170.87 42.26h0M216.91 45.31h0M199.12 49.4h0M211.15 48.69h0M217.59 53.59h0M216.1 55.91h0M230.02 59.85h0M230.74 75.29h0M158.5 77.21h0M227.38 77.3h0M221.25 79.13h0M172 87.07h0M198.59 86.82h0M206.69 93.37h0M222.7 93.44h0M170.22 94.53h0" stroke="#1a1a1a" stroke-width="1" stroke-linecap="round"/><path d="M163.07 30.52h0M222.95 29.95h0M207.15 39.84h0M212.85 71.45h0" stroke="#1a1a1a" stroke-width="2.5" stroke-linecap="round"/><path d="M187.13 29.39h0M189.6 30.69h0M206.62 44.19h0M213.99 42.85h0M204.68 50.82h0M184.49 53.16h0M204.32 65.96h0M208.68 74.12h0M188.35 85.14h0M222.99 88.13h0M187.03 96.25h0" stroke="#444" stroke-width="1" stroke-linecap="round"/><path d="M170.42 32.36h0M177.71 34.35h0M219.32 35.49h0M224.81 54.5h0M190.02 81.63h0" stroke="#444" stroke-width="2.5" stroke-linecap="round"/><path d="M187.44 82.04h0" stroke="#333" stroke-width="2.5" stroke-linecap="round"/><rect x="199.8" y="94" width="30" height="3" fill="#080808" /><rect x="201" y="95.1" width="16.6" height="0.7" fill="#a0a0a0" /><rect x="219" y="94.8" width="4.2" height="1.4" fill="#909090" /><rect x="224.2" y="95" width="3.8" height="1.2" fill="#888" /></g><g clip-path="url(#c10)"><rect x="12" y="98" width="72" height="72.1" fill="#d0d0d0" /><rect x="12" y="98" width="72" height="72.1" fill="url(#g10)"/><path d="M26 98.7h0M48.1 109.5h0M44.2 119.5h0M65.2 131.3h0M52.8 136.1h0M36.7 154.5h0" stroke="#e2e2e2" stroke-width="4" stroke-linecap="round"/><path d="M57.1 100.9h0" stroke="#e2e2e2" stroke-width="6" stroke-linecap="round"/><path d="M61.8 113.7h0M38.8 115.9h0M40.6 130.9h0M17.4 138.2h0M28.1 137.4h0M30.9 146.8h0M41.6 151.7h0M54.9 155.4h0M61.8 162.5h0" stroke="#e2e2e2" stroke-width="3.5" stroke-linecap="round"/><path d="M51.7 120.6h0M27.5 152.8h0M73.2 152.4h0M59.7 161h0" stroke="#e2e2e2" stroke-width="4.5" stroke-linecap="round"/><path d="M50.2 123.8h0" stroke="#e2e2e2" stroke-width="5.5" stroke-linecap="round"/><path d="M39.9 150.2h0M82.4 154.5h0M35.2 158.8h0M27 163.1h0M38.8 165.3h0" stroke="#e2e2e2" stroke-width="5" stroke-linecap="round"/><path d="M26 98.7h0M48.1 109.5h0M44.2 119.5h0M65.2 131.3h0M52.8 136.1h0M36.7 154.5h0" stroke="#1a1a1a" stroke-width="2.5" stroke-linecap="round"/><path d="M57.1 100.9h0" stroke="#1a1a1a" stroke-width="4.5" stroke-linecap="round"/><path d="M21 106.7h0M76.4 116.3h0M81.8 116.8h0M63.5 118.5h0M34.5 124.9h0M22.7 128.8h0M69.5 127.5h0M33.5 136.7h0M43.8 139.9h0M28.7 139.9h0M63.5 143.2h0M72.1 143.2h0M77.5 143.8h0M16.7 148.5h0M81.8 148.1h0M71.7 163.1h0" stroke="#555" stroke-width="1.5" stroke-linecap="round"/><path d="M46.3 100.9h0M78.6 104.5h0M30.2 116.8h0M69.5 114.6h0M69.5 122.8h0M76.4 122.8h0M28.1 132.4h0M48.9 132.4h0M21 139.9h0M58.2 136.7h0M46.3 165.7h0" stroke="#777" stroke-width="1.5" stroke-linecap="round"/><path d="M61.8 113.7h0M38.8 115.9h0M40.6 130.9h0M17.4 138.2h0M28.1 137.4h0M30.9 146.8h0M41.6 151.7h0M54.9 155.4h0M61.8 162.5h0" stroke="#333" stroke-width="2" stroke-linecap="round"/><path d="M51.7 120.6h0M27.5 152.8h0M73.2 152.4h0M59.7 161h0" stroke="#1a1a1a" stroke-width="3" stroke-linecap="round"/><path d="M50.2 123.8h0" stroke="#1a1a1a" stroke-width="4" stroke-linecap="round"/><path d="M39.9 150.2h0M82.4 154.5h0M35.2 158.8h0M27 163.1h0M38.8 165.3h0" stroke="#1a1a1a" stroke-width="3.5" stroke-linecap="round"/><rect x="53.4" y="167" width="30" height="3" fill="#080808" /><rect x="54.6" y="168.1" width="16.6" height="0.7" fill="#a0a0a0" /><rect x="72.6" y="167.8" width="4.2" height="1.4" fill="#909090" /><rect x="77.8" y="168" width="3.8" height="1.2" fill="#888" /></g><g clip-path="url(#c11)"><rect x="85.4" y="98" width="72.1" height="72.1" fill="#bebebe" /><path d="M85.9 100.27h0M110.71 98.8h0M114.5 104.32h0M138.19 104.43h0M126.98 108.69h0M141.85 108h0M98.87 113.16h0M118.38 111.79h0M143.4 111.71h0M153.11 112.83h0M86.61 117.5h0M89.44 121.46h0M108.29 120.61h0M129.02 121.53h0M101.07 125.04h0M156.85 125.79h0M123.78 130.48h0M100.58 134.82h0M126.84 133.75h0M156.69 133.94h0M105.73 143.2h0M136.18 142.72h0M151.18 143.44h0M118.9 146.81h0M139.36 147.04h0M143.23 146.91h0M101.38 151.17h0M111.28 152.57h0M135.76 150.91h0M123.39 155.71h0M134.02 156.49h0M139.03 156.1h0M141.65 159.54h0M146.11 159.96h0M109.35 164.18h0M114.74 164.35h0M118.76 164.62h0M128.9 164.24h0M121.57 169.4h0M136.14 168.81h0" stroke="#dadada" stroke-width="3.5" stroke-linecap="round"/><path d="M102.1 99.24h0M122.18 100.18h0M119.66 103.7h0M85.54 107.64h0M106.31 108.63h0M116.43 108.67h0M151.62 107.88h0M89.23 113.24h0M104.63 111.99h0M114.3 112.21h0M124.3 113.13h0M148.45 113.23h0M115.7 116.76h0M120.71 117.11h0M131.55 117.7h0M136.55 117.65h0M146.74 117.25h0M103.76 120.52h0M96.22 125.37h0M104.52 130.42h0M108.5 130.74h0M114.18 129.13h0M134.01 129.91h0M143.89 130.08h0M85.74 135.09h0M91.29 134.45h0M121.02 133.54h0M135.74 134.59h0M94.7 139.39h0M104.31 137.83h0M133.44 138.3h0M149.17 138.37h0M92.19 142.27h0M100.89 143.71h0M111.41 142.35h0M141.46 143.29h0M93.07 147.61h0M99.23 147.48h0M105.62 151.72h0M156.79 151.85h0M94.44 156.92h0M108.38 155.57h0M144.4 156.92h0M154.36 155.9h0M96.24 161.18h0M100.76 160.47h0M106.35 161.26h0M111.59 160.11h0M120.69 160.97h0M131.06 160.11h0M94.35 164.05h0M99.03 164.87h0M103.06 164.45h0M133.5 164.36h0M144.5 164.47h0M92.02 169.5h0M97 168.41h0M106.67 168.7h0M116.97 169.32h0M146.83 168.61h0M151.15 169.25h0M157.04 168.45h0" stroke="#dadada" stroke-width="4" stroke-linecap="round"/><path d="M136.32 99.65h0M146.73 99.46h0M104.36 103.82h0M133.7 104.11h0M149.64 104.2h0M91.53 108.17h0M111.34 107.66h0M121.23 108.5h0M132.17 107.73h0M134.67 112.76h0M155.56 117.56h0M93.83 120.83h0M113.12 121.23h0M86.13 126.32h0M121.66 124.8h0M148.19 129.37h0M154.37 129.29h0M131.47 133.95h0M99.64 137.8h0M131.69 143.21h0M114.36 147.47h0M124.75 146.67h0M91.02 151.2h0M96.23 151.61h0M120.83 151.27h0M88.25 156.14h0M103.72 156.51h0M114.57 155.55h0M148.68 155.36h0M117.2 161.08h0M150.9 161.14h0M87.03 168.27h0M112.21 168.96h0M126.69 169.02h0" stroke="#dadada" stroke-width="4.5" stroke-linecap="round"/><path d="M85.9 100.27h0M126.98 108.69h0M141.85 108h0M151.62 107.88h0M98.87 113.16h0M86.61 117.5h0M115.7 116.76h0M89.44 121.46h0M91.63 126.32h0M85.74 135.09h0M100.58 134.82h0M146.87 143.04h0M130.67 151.56h0M152.15 151.16h0M139.03 156.1h0M126.15 160.64h0M146.11 159.96h0M114.74 164.35h0M118.76 164.62h0" stroke="#2a2a2a" stroke-width="2" stroke-linecap="round"/><path d="M90.82 98.96h0M110.71 98.8h0M129.01 103.53h0M118.38 111.79h0M126.77 117.4h0M138.93 129.68h0M118.9 146.81h0M123.39 155.71h0M89.14 163.98h0M136.14 168.81h0" stroke="#222" stroke-width="2" stroke-linecap="round"/><path d="M96.25 99.3h0M143.23 104.51h0M96.03 107.45h0M136.82 108.56h0M153.07 121.49h0M131.05 125.02h0M108.37 146.65h0M125.63 152.43h0M147.08 152.07h0M131.19 168.59h0" stroke="#222" stroke-width="1.5" stroke-linecap="round"/><path d="M102.1 99.24h0M111.34 107.66h0M89.23 113.24h0M104.63 111.99h0M94.44 156.92h0M108.38 155.57h0M111.59 160.11h0M131.06 160.11h0M103.06 164.45h0M92.02 169.5h0" stroke="#222" stroke-width="2.5" stroke-linecap="round"/><path d="M105.94 99.62h0M93.11 103.08h0M128.92 113.41h0M112.07 117.72h0M136.55 117.65h0M101.07 125.04h0M106.52 124.82h0M151.63 124.73h0M152.26 134.7h0M88.85 139.23h0M104.31 137.83h0M113.48 137.84h0M116.1 142.16h0M136.18 142.72h0M139.36 147.04h0M135.76 150.91h0M96.24 161.18h0M133.5 164.36h0M121.57 169.4h0" stroke="#666" stroke-width="2" stroke-linecap="round"/><path d="M117.19 100.27h0M157.22 108.05h0M138.92 111.96h0M119.2 121.71h0M133.16 121.64h0M139.37 120.55h0M112.02 125.08h0M129.1 130.47h0M142.22 133.83h0M128.3 148.04h0" stroke="#1a1a1a" stroke-width="1.5" stroke-linecap="round"/><path d="M122.18 100.18h0M85.54 107.64h0M120.71 117.11h0M103.76 120.52h0M86.13 126.32h0M96.22 125.37h0M111.41 142.35h0M124.75 146.67h0M96.23 151.61h0M105.62 151.72h0M156.79 151.85h0M154.36 155.9h0M99.03 164.87h0M116.97 169.32h0M146.83 168.61h0M151.15 169.25h0" stroke="#3a3a3a" stroke-width="2.5" stroke-linecap="round"/><path d="M126.38 100.12h0M89.67 104.3h0M123.66 103.59h0M100.87 108.16h0M93.81 111.8h0M108.09 111.76h0M140.98 116.56h0M126.78 126.35h0M89.44 130.63h0M115.94 134.45h0M146.61 133.79h0M86.58 142.24h0M88.85 147.27h0M154.47 146.53h0M98.55 155.28h0M87.25 161.2h0" stroke="#3a3a3a" stroke-width="1.5" stroke-linecap="round"/><path d="M130.8 99.97h0M141.73 100.21h0M108.24 103.42h0M91.19 116.4h0M95.74 117.04h0M101.12 116.54h0M106.6 117.7h0M151.48 116.43h0M123.07 121.35h0M116.16 125.49h0M141.16 126.44h0M145.67 126.31h0M128.57 138.96h0M121.96 142.35h0M126.36 142.51h0M157.02 143.2h0M133.12 147.17h0M149.18 147.74h0M149.41 164.33h0M154.36 164.72h0" stroke="#666" stroke-width="1.5" stroke-linecap="round"/><path d="M136.32 99.65h0M104.36 103.82h0M133.7 104.11h0M121.66 124.8h0M120.83 151.27h0M88.25 156.14h0M126.69 169.02h0" stroke="#2a2a2a" stroke-width="3" stroke-linecap="round"/><path d="M146.73 99.46h0M93.83 120.83h0M113.12 121.23h0M148.19 129.37h0M154.37 129.29h0M131.69 143.21h0M91.02 151.2h0M103.72 156.51h0M148.68 155.36h0M150.9 161.14h0M112.21 168.96h0" stroke="#3a3a3a" stroke-width="3" stroke-linecap="round"/><path d="M99.05 104.5h0M138.19 104.43h0M143.4 111.71h0M153.11 112.83h0M108.29 120.61h0M129.02 121.53h0M123.78 130.48h0M143.89 130.08h0M126.84 133.75h0M156.69 133.94h0M143.27 138.67h0M141.46 143.29h0M143.23 146.91h0M101.38 151.17h0M111.28 152.57h0M134.02 156.49h0M100.76 160.47h0M141.65 159.54h0M109.35 164.18h0M128.9 164.24h0M106.67 168.7h0" stroke="#3a3a3a" stroke-width="2" stroke-linecap="round"/><path d="M114.5 104.32h0M143.32 121.15h0M156.85 125.79h0M154.66 138.9h0M105.73 143.2h0M151.18 143.44h0M97 168.41h0M101 169.66h0" stroke="#1a1a1a" stroke-width="2" stroke-linecap="round"/><path d="M119.66 103.7h0M131.55 117.7h0M146.74 117.25h0M108.5 130.74h0M114.18 129.13h0M135.74 134.59h0M149.17 138.37h0M92.19 142.27h0M99.23 147.48h0M120.69 160.97h0M157.04 168.45h0" stroke="#1a1a1a" stroke-width="2.5" stroke-linecap="round"/><path d="M149.64 104.2h0M91.53 108.17h0M155.56 117.56h0M104.52 130.42h0M91.29 134.45h0M121.02 133.54h0M99.64 137.8h0M114.36 147.47h0M144.4 156.92h0M144.5 164.47h0" stroke="#2a2a2a" stroke-width="2.5" stroke-linecap="round"/><path d="M154.08 103.38h0M147.11 108.43h0M99.26 120.71h0M93.24 130.3h0M118.53 130.02h0M105.76 133.86h0M118.31 139.42h0M103.15 146.88h0M116.86 151.14h0M142.06 151.99h0M129.24 156.23h0M155.94 160.93h0M138.41 164.65h0M142.11 168.85h0" stroke="#2a2a2a" stroke-width="1.5" stroke-linecap="round"/><path d="M106.31 108.63h0M116.43 108.67h0M121.23 108.5h0M114.3 112.21h0M124.3 113.13h0M148.45 113.23h0M134.01 129.91h0M94.7 139.39h0M133.44 138.3h0M100.89 143.71h0M93.07 147.61h0M114.57 155.55h0M106.35 161.26h0M94.35 164.05h0" stroke="#666" stroke-width="2.5" stroke-linecap="round"/><path d="M132.17 107.73h0M131.47 133.95h0M87.03 168.27h0" stroke="#222" stroke-width="3" stroke-linecap="round"/><path d="M134.67 112.76h0M117.2 161.08h0" stroke="#666" stroke-width="3" stroke-linecap="round"/><path d="M136.3 113.7h0" stroke="#f4f4f4" stroke-width="8" stroke-linecap="round"/><path d="M121.9 132.4h0" stroke="#f4f4f4" stroke-width="6.5" stroke-linecap="round"/><path d="M132.6 134.6h0" stroke="#f4f4f4" stroke-width="6" stroke-linecap="round"/><path d="M105.8 107.7h0M90.8 131.3h0" stroke="#f4f4f4" stroke-width="5.5" stroke-linecap="round"/><path d="M138 105.6h0M134.8 154.5h0M144.4 157.5h0M107.9 118.5h0" stroke="#f4f4f4" stroke-width="5" stroke-linecap="round"/><path d="M136.3 113.7h0" stroke="#1a1a1a" stroke-width="6.5" stroke-linecap="round"/><path d="M121.9 132.4h0" stroke="#1a1a1a" stroke-width="5" stroke-linecap="round"/><path d="M132.6 134.6h0M105.8 107.7h0M90.8 131.3h0" stroke="#1a1a1a" stroke-width="4" stroke-linecap="round"/><path d="M138 105.6h0M134.8 154.5h0M144.4 157.5h0M107.9 118.5h0" stroke="#1a1a1a" stroke-width="3.5" stroke-linecap="round"/><rect x="126.9" y="167" width="30" height="3" fill="#080808" /><rect x="128.1" y="168.1" width="16.6" height="0.7" fill="#a0a0a0" /><rect x="146.1" y="167.8" width="4.2" height="1.4" fill="#909090" /><rect x="151.3" y="168" width="3.8" height="1.2" fill="#888" /></g><g clip-path="url(#c12)"><rect x="158.8" y="98" width="71.6" height="72.1" fill="#bcbcbc" /><circle cx="173.4" cy="108.1" r="2.15" fill="#141414" filter="url(#bl15)"/><circle cx="195.7" cy="109.2" r="3.45" fill="#0a0a0a" filter="url(#bl15)"/><circle cx="217.8" cy="107" r="2.25" fill="#484848" filter="url(#bl15)"/><circle cx="222.5" cy="107.2" r="3.05" fill="#141414" filter="url(#bl15)"/><circle cx="204.5" cy="113.5" r="1.95" fill="#484848" filter="url(#bl15)"/><circle cx="175.5" cy="120.5" r="1.95" fill="#333" filter="url(#bl15)"/><circle cx="180.7" cy="120.1" r="2.85" fill="#141414" filter="url(#bl15)"/><circle cx="186.7" cy="123.8" r="2.65" fill="#141414" filter="url(#bl15)"/><circle cx="194.8" cy="119.5" r="2.65" fill="#141414" filter="url(#bl15)"/><circle cx="167" cy="124.8" r="2.35" fill="#333" filter="url(#bl15)"/><circle cx="173.8" cy="125.9" r="1.95" fill="#666" filter="url(#bl15)"/><circle cx="203.8" cy="124.8" r="2.85" fill="#484848" filter="url(#bl15)"/><circle cx="204.8" cy="130" r="2.35" fill="#484848" filter="url(#bl15)"/><circle cx="211.4" cy="129.8" r="2.35" fill="#484848" filter="url(#bl15)"/><circle cx="192.7" cy="135.6" r="2.35" fill="#484848" filter="url(#bl15)"/><circle cx="172.3" cy="139.2" r="3.05" fill="#141414" filter="url(#bl15)"/><circle cx="204.3" cy="139.2" r="2.65" fill="#141414" filter="url(#bl15)"/><circle cx="191" cy="142.6" r="2.85" fill="#141414" filter="url(#bl15)"/><circle cx="214" cy="142" r="3.65" fill="#333" filter="url(#bl15)"/><circle cx="224.3" cy="138.8" r="3.25" fill="#333" filter="url(#bl15)"/><circle cx="223.2" cy="142" r="2.85" fill="#333" filter="url(#bl15)"/><circle cx="205.6" cy="146.3" r="2.15" fill="#484848" filter="url(#bl15)"/><circle cx="212.8" cy="147.8" r="2.85" fill="#484848" filter="url(#bl15)"/><circle cx="163.5" cy="149.5" r="3.05" fill="#141414" filter="url(#bl15)"/><circle cx="179.6" cy="156" r="2.85" fill="#141414" filter="url(#bl15)"/><circle cx="199.6" cy="160.7" r="3.45" fill="#141414" filter="url(#bl15)"/><circle cx="222.1" cy="161.7" r="2.15" fill="#333" filter="url(#bl15)"/><circle cx="160.9" cy="165.6" r="2.35" fill="#333" filter="url(#bl15)"/><circle cx="183.5" cy="169.9" r="1.95" fill="#333" filter="url(#bl15)"/><rect x="199.8" y="167" width="30" height="3" fill="#080808" /><rect x="201" y="168.1" width="16.6" height="0.7" fill="#a0a0a0" /><rect x="219" y="167.8" width="4.2" height="1.4" fill="#909090" /><rect x="224.2" y="168" width="3.8" height="1.2" fill="#888" /></g><g clip-path="url(#c20)"><rect x="12" y="171.4" width="72" height="71.8" fill="#c6c6c6" /><path d="M12.26 173.08h0M50.99 173.01h0M62.37 172.1h0M72.64 172.52h0M82.64 172.08h0M38.72 175.1h0M67.63 174.86h0M19.44 178.9h0M30.17 178.51h0M50.81 177.9h0M57.84 178.52h0M75.03 178.27h0M21.14 181.93h0M43.07 181.67h0M58.74 184.66h0M69.4 185.14h0M35.47 187.87h0M60.22 187h0M70.05 187.96h0M33.48 191.32h0M58.12 191.28h0M75.73 191.08h0M28.8 193.67h0M58.79 196.9h0M61.21 196.98h0M14.58 200.31h0M49.46 200.34h0M81.56 199.97h0M15.56 202.4h0M72.7 203.39h0M76.26 203.18h0M27.13 209.65h0M64.04 211.76h0M81.07 211.4h0M43.65 214.61h0M40.54 227.35h0M55.01 226.79h0M35.36 230.55h0M53.46 230.66h0M73.82 230.71h0M13.06 233.26h0M37.63 233.03h0M17.81 236.27h0M28.68 236.56h0M35.32 235.77h0M26.38 239.68h0M37.04 238.85h0M47.17 239.22h0M65.79 239.16h0M35 242.01h0M52.26 242.92h0M56.4 241.84h0" stroke="#444" stroke-width="1.5" stroke-linecap="round"/><path d="M20.11 172.06h0M31.79 174.91h0M70.15 175.8h0M19.41 184.98h0M32.36 187.5h0M66.27 187.09h0M16.8 190.9h0M26.51 191.38h0M71.5 191.12h0M46.01 194.46h0M72.26 196.13h0M44.32 209.08h0M45.26 211.8h0M60.18 212.19h0M61.68 214.93h0M27.9 224.02h0M52.91 224.53h0M26.76 226.81h0M30.28 227.91h0M51.32 227.55h0M61.19 227.27h0M32.38 230.55h0M76.92 230.57h0M82.55 239.97h0" stroke="#555" stroke-width="1" stroke-linecap="round"/><path d="M23.82 172.74h0M26.3 172.45h0M37.26 172.92h0M65.76 173.12h0M17.45 175.2h0M27.9 181.14h0M36.63 184.72h0M71.52 185.15h0M78.56 184.61h0M40.37 190.24h0M64.71 197.31h0M67.26 200.35h0M19.33 203.26h0M33.03 202.55h0M34.82 206.46h0M40.07 209.44h0M83 209.32h0M31.69 218.4h0M53.03 218.39h0M34.02 221.05h0M50.6 220.52h0M61.91 221.59h0M39.34 224.78h0M55.76 229.9h0M63.33 230.63h0M23.1 233.17h0M72.43 232.71h0M39.1 236.26h0M15.14 242.81h0M17.92 242.15h0M63.78 242.72h0" stroke="#808080" stroke-width="1.5" stroke-linecap="round"/><path d="M30.73 172.73h0M68.21 172.26h0M28.81 175.94h0M47.24 184.12h0M17.36 193.47h0M31.71 194.38h0M56.31 193.79h0M54.74 196.91h0M59.76 199.87h0M43.74 202.6h0M20.85 206.4h0M79.62 215.32h0M22.1 217.73h0M63.5 217.71h0M74.63 217.73h0M37 220.78h0M21.69 224.72h0M35.73 223.88h0M45.29 223.59h0M33.64 227.87h0M24.32 229.76h0M30.71 233.64h0M51.52 233.29h0M69.22 232.91h0M56.23 236.67h0M66.45 236.68h0M19.03 239.43h0M32.19 242.4h0M45.91 242.7h0M49.09 243.01h0M60.13 242.88h0" stroke="#333" stroke-width="1" stroke-linecap="round"/><path d="M33.54 172.88h0M47.39 173.14h0M75.25 172.79h0M48.2 178.25h0M62.16 178.85h0M64.62 178.18h0M14.23 181.17h0M81.54 181.2h0M34.36 184.08h0M51.81 184.17h0M52.31 187.26h0M30.1 190.22h0M78.14 193.69h0M37.29 196.32h0M51.8 197.43h0M24.67 200.21h0M29.02 199.69h0M45.45 200.47h0M26.47 202.64h0M30.89 202.72h0M54.1 202.75h0M61.21 202.25h0M68.86 202.73h0M45.45 206.04h0M70.35 206.11h0M58.36 209.56h0M53.08 212.08h0M69.33 215.25h0M36.1 218.24h0M57.66 221.76h0M65.82 220.96h0M76.11 220.59h0M82.79 220.51h0M32.09 223.61h0M74.1 224.73h0M19.39 227.65h0M22.83 227.1h0M69.1 227.26h0M15.06 230.99h0M65.53 233.55h0M25.13 236.74h0M41.94 236.87h0M69.93 236.11h0M33.41 240.03h0M40.08 239.57h0" stroke="#555" stroke-width="1.5" stroke-linecap="round"/><path d="M40.5 172.15h0M77.46 175.35h0M80.27 175.47h0M27.08 178.15h0M40.52 178.32h0M79.76 179.15h0M31.56 181.1h0M27.02 184.77h0M21.7 187.35h0M15 193.07h0M82.27 197.28h0M32.25 200.35h0M43 199.85h0M24.34 205.95h0M23.74 209.07h0M51.78 208.44h0M13.76 211.9h0M21.63 212.67h0M24.4 212.7h0M28.68 211.49h0M38.4 211.99h0M70.54 212.65h0M47.38 215.16h0M65.51 215.41h0M13.92 217.76h0M38.69 218.2h0M46.05 217.65h0M40.66 220.58h0M25.25 224h0M81.37 224.06h0M37.65 226.56h0M46.49 230.35h0" stroke="#444" stroke-width="2" stroke-linecap="round"/><path d="M44.09 172.56h0M58.79 171.86h0M78.73 172.38h0M35.44 175.18h0M42.13 175.56h0M16.89 177.91h0M37.05 178.44h0M71.97 178.9h0M39.46 180.92h0M12.96 183.96h0M14.17 188.28h0M25.56 187.28h0M27.98 188.02h0M45.87 187.61h0M12.41 190.76h0M51.58 190.12h0M53.03 193.24h0M74.15 193.25h0M17.66 200.38h0M70.59 199.84h0M74 199.57h0M47.72 202.43h0M83.35 202.45h0M38.45 205.62h0M56.73 206.5h0M15.63 209.06h0M36.93 208.9h0M79.71 209.37h0M78.14 212.03h0M26.49 215.31h0M25.05 217.66h0M60.5 218.64h0M66.3 218.33h0M22.55 221.33h0M54.08 220.7h0M72.06 221.73h0M59.44 223.93h0M83.39 227.35h0M42.56 229.9h0M26.32 233.28h0M40.93 233.58h0M16.24 239.97h0M69.04 240.01h0M79.72 239.38h0M42.43 242.14h0" stroke="#6a6a6a" stroke-width="1.5" stroke-linecap="round"/><path d="M54.46 172.49h0M53.02 181.62h0M63.49 181.72h0M61.29 184.92h0M82.47 191h0M67.1 205.46h0M81.12 205.66h0M20.29 209.47h0M19.97 215.47h0M75.12 215.57h0M77.77 218.07h0M47.43 220.77h0M42.07 223.98h0M67.5 224.04h0M28.78 229.79h0M15.88 233.51h0M46.05 237.01h0M75.97 239.01h0" stroke="#6a6a6a" stroke-width="2" stroke-linecap="round"/><path d="M13.86 175.75h0M17.4 181.74h0M49.17 181.03h0M22.57 185.01h0M40.74 184.48h0M82.42 184.42h0M44.61 190.64h0M65.44 190.87h0M78.8 190.68h0M48.92 193.32h0M63.17 193.77h0M67.08 193.17h0M20.14 196.98h0M43.72 196.37h0M68.41 196.61h0M20.79 199.47h0M34.93 199.3h0M53.55 199.2h0M56.07 199.69h0M36.88 203.02h0M18.07 206.42h0M27.77 205.75h0M55.03 208.87h0M61.77 208.39h0M17.31 212.35h0M42.99 211.55h0M49.54 212.47h0M33.41 215.39h0M54.79 214.42h0M58.43 215.69h0M82.6 215.06h0M56.03 218.38h0M13.82 223.93h0M76.79 223.69h0M71.72 227.15h0M79.37 233.75h0M21.35 235.79h0M63.34 236.28h0M12.8 240.07h0M43.59 239.22h0M21.08 243.02h0M39.01 242.02h0M81.04 241.99h0" stroke="#333" stroke-width="1.5" stroke-linecap="round"/><path d="M21.76 174.87h0M45.85 175.91h0M82.52 178.34h0M16.04 183.94h0M54.54 184.27h0M17.87 187.1h0M56.03 187.88h0M71.96 215.71h0M48.87 218.71h0M63.5 224.75h0M12.55 227.58h0M44.8 227.85h0M78.58 227.42h0M54.98 234.01h0M58.66 239.86h0M71.97 239h0M74.26 242.38h0" stroke="#6a6a6a" stroke-width="1" stroke-linecap="round"/><path d="M52.26 175.56h0M60.21 175.35h0M13.12 178.07h0M56.34 182.05h0M59.48 181.96h0M44.69 184.16h0M48.02 191.34h0M68.83 191.32h0M22.85 196.95h0M47.8 196.19h0M12.67 203.12h0M40.65 203.17h0M58.66 202.97h0M14.62 206.26h0M74.62 206.11h0M29.91 209.03h0M23.19 215.65h0M40.57 214.76h0M51.2 214.43h0M43.78 220.98h0M79.66 220.48h0M17.67 223.78h0M48.14 227.29h0M58.04 227.18h0M18.61 230.7h0M81.18 236.4h0M55.36 239.6h0" stroke="#555" stroke-width="2" stroke-linecap="round"/><path d="M56.9 174.99h0M43.12 187.36h0M54.58 190.37h0M26.71 196.37h0M79.46 203.38h0M31.27 205.67h0M42.76 206.08h0M18.54 218.65h0M81 217.69h0M16.38 226.68h0M21.4 229.78h0M49.09 229.66h0M80.74 230.75h0M75.12 233.3h0M74.48 237.02h0M77.39 236.49h0M77.08 241.97h0" stroke="#808080" stroke-width="2" stroke-linecap="round"/><path d="M63.51 175.81h0M35.89 181.92h0M67.3 181.44h0M30.65 185.04h0M20.32 190.24h0M23.04 190.24h0M36.52 191.38h0M25.33 193.66h0M35.9 193.85h0M16.77 197.27h0M40.92 196.97h0M38.66 199.75h0M52.28 205.99h0M78 206.5h0M12.86 209.25h0M47.54 209.61h0M68.37 208.94h0M31.3 212.23h0M73.57 212.12h0M36.87 214.67h0M38.56 230.51h0M82.61 232.79h0M32.17 236.61h0M52.74 235.91h0M22.82 239.17h0M29.88 239.12h0" stroke="#333" stroke-width="2" stroke-linecap="round"/><path d="M73.56 175.56h0M34.22 179.15h0M54.9 178.2h0M74.57 182.01h0M73.95 187.37h0M70.04 194.4h0M33.21 197.08h0M63.59 199.79h0M19.91 221h0M30.35 221.82h0M56.65 224.25h0M59.84 230.22h0M66.81 229.97h0M70.05 230.03h0M19.33 233.96h0M49.96 235.83h0M70.26 242.78h0" stroke="#808080" stroke-width="1" stroke-linecap="round"/><path d="M77.72 181.83h0M65.39 184.15h0M21.39 194.44h0M81.14 193.23h0M75.13 196.32h0M51.79 202.45h0M65.46 203.57h0M60.44 206.43h0M65.48 208.98h0M72.55 208.9h0M27.8 218.46h0M42.46 218.53h0M16.1 220.92h0M75.96 226.69h0M34.4 233.29h0M44.27 234.01h0M57.67 233.02h0M61.28 232.69h0M29.05 242.37h0M66.92 241.83h0" stroke="#444" stroke-width="1" stroke-linecap="round"/><rect x="53.4" y="240" width="30" height="3" fill="#080808" /><rect x="54.6" y="241.1" width="16.6" height="0.7" fill="#a0a0a0" /><rect x="72.6" y="240.8" width="4.2" height="1.4" fill="#909090" /><rect x="77.8" y="241" width="3.8" height="1.2" fill="#888" /></g><g clip-path="url(#c21)"><rect x="85.4" y="171.4" width="72.1" height="71.8" fill="#c4c4c4" /><path d="M86.51 172.54h0M107.86 175.79h0M114.36 180.37h0M149.35 184.85h0M137.03 197.7h0M146.04 197.3h0M85.94 204.94h0M126.85 204.74h0M102.7 209.93h0M106.08 209.91h0M85.54 213.73h0M87.48 217.56h0M148.16 217.46h0M90.28 221.59h0M106.95 224.47h0M126.04 225.38h0M90.47 228.44h0M119.66 227.72h0M124.77 233.34h0M155.78 235.95h0M103.03 241.14h0" stroke="#d6d6d6" stroke-width="4.5" stroke-linecap="round"/><path d="M91.93 172.29h0M99.96 173.61h0M113.54 172.47h0M123.19 172.13h0M88.61 177.72h0M93.81 175.82h0M112.16 177.83h0M125.57 177.31h0M130.39 176.95h0M148.5 176.95h0M94.69 180.97h0M150.1 179.8h0M88.31 185.55h0M126.39 185.17h0M144.05 183.84h0M100.97 188.64h0M127.06 188.72h0M140.66 188.68h0M102.95 193.61h0M119.88 191.99h0M139.01 193.92h0M86.71 196.11h0M94.62 195.96h0M105.55 195.79h0M132.59 196.8h0M98.8 199.77h0M101.44 201.24h0M112.68 200.17h0M117.14 201.57h0M94.73 204.43h0M105.57 204.49h0M108.42 205.16h0M136.56 204.84h0M141.02 204.33h0M115.49 207.95h0M124.58 208.84h0M134.53 209.35h0M139.32 208.85h0M136.3 212.68h0M106.96 217.67h0M120.56 215.68h0M135.35 216.69h0M151.9 216.07h0M94.7 220.63h0M123.95 219.67h0M141.21 220.61h0M103.08 224.54h0M122.4 229.71h0M140.75 229.31h0M146.39 229.89h0M121.13 232.63h0M139.18 233.67h0M95.43 236.58h0M100.82 236.5h0M118.93 236.54h0M136.51 236.09h0M142.3 236.34h0M150.3 237.94h0M97.62 240.66h0M133.59 240.08h0" stroke="#d6d6d6" stroke-width="4" stroke-linecap="round"/><path d="M96.6 173.49h0M128.21 172.5h0M155.1 172.5h0M101.91 176.36h0M117.3 177.44h0M100.99 180.59h0M132.92 180.9h0M112.5 185.8h0M90.53 187.81h0M93.32 192.91h0M106.75 192.39h0M99.98 196.71h0M117.66 196.77h0M140.59 197.93h0M151.45 196.04h0M156.47 196.53h0M89.28 200.71h0M120.51 200.72h0M148.18 200.91h0M112.78 205h0M113 212.82h0M127.23 212.15h0M101.89 216.68h0M105.11 219.87h0M117.56 219.7h0M126.78 221.7h0M133.21 219.74h0M156.4 220.21h0M88.33 224.99h0M97.53 224.44h0M115.9 224.04h0M95.52 229.07h0M94.21 231.72h0M134.86 233.5h0M147.98 233.78h0M116.69 240.71h0M144.16 241.67h0" stroke="#d6d6d6" stroke-width="3.5" stroke-linecap="round"/><path d="M86.51 172.54h0M123.19 172.13h0M125.57 177.31h0M150.1 179.8h0M140.66 188.68h0M102.95 193.61h0M86.71 196.11h0M105.55 195.79h0M141.21 220.61h0M122.4 229.71h0" stroke="#555" stroke-width="2.5" stroke-linecap="round"/><path d="M91.93 172.29h0M99.96 173.61h0M126.39 185.17h0M149.35 184.85h0M100.97 188.64h0M101.44 201.24h0M94.73 204.43h0M105.57 204.49h0M124.58 208.84h0M134.53 209.35h0M136.3 212.68h0M123.95 219.67h0M126.04 225.38h0M150.3 237.94h0" stroke="#333" stroke-width="2.5" stroke-linecap="round"/><path d="M96.6 173.49h0M100.99 180.59h0M105.66 180.33h0M112.5 185.8h0M106.75 192.39h0M89.28 200.71h0M119.43 213.55h0M101.89 216.68h0M88.33 224.99h0M97.53 224.44h0M147.41 224.18h0M140.75 229.31h0M146.39 229.89h0M89.09 233.63h0M123.82 235.83h0" stroke="#777" stroke-width="2" stroke-linecap="round"/><path d="M104.37 172.62h0M133.59 176.67h0M86.07 180.92h0M110.29 181.18h0M102.19 184.5h0M134.19 185.67h0M103.92 189.3h0M109.65 187.76h0M88.23 193.63h0M96.84 191.99h0M110.64 193.43h0M147.8 192.52h0M110.35 197.27h0M93.67 209.42h0M111.43 209.78h0M147.73 208.65h0M123.75 212.4h0M140.2 217.28h0M149.84 220.54h0M139.9 224.57h0M105.51 228.74h0M113.48 229.69h0M137.91 228.5h0M113.9 237.52h0M92.38 240.23h0M124.35 240.98h0M139.9 240.51h0" stroke="#777" stroke-width="1.5" stroke-linecap="round"/><path d="M109.39 172.05h0M128.47 180.26h0M93.72 184.6h0M140.1 185.63h0M118.15 188.48h0M150.43 205.94h0M155.68 204.7h0M151.88 208.25h0M132.12 212.47h0M115.22 217.09h0M119.74 224.31h0M142.87 224.62h0M151.77 228.47h0M129.73 232.72h0M91.33 237.04h0M106.29 239.91h0M111.4 240.58h0" stroke="#333" stroke-width="1.5" stroke-linecap="round"/><path d="M113.54 172.47h0M94.69 180.97h0M119.88 191.99h0M139.01 193.92h0M139.32 208.85h0M135.35 216.69h0M119.66 227.72h0M139.18 233.67h0M95.43 236.58h0" stroke="#777" stroke-width="2.5" stroke-linecap="round"/><path d="M117.68 173.6h0M133.02 172.05h0M97.97 177.84h0M90.7 181.28h0M151.38 189.29h0M130.06 207.66h0M90.06 212.78h0M105.31 212.83h0M110.23 211.93h0M147.08 212.93h0M109.56 219.98h0M146.26 221.21h0M110.7 225.95h0M135.15 224.56h0M103.05 232.74h0M116.83 233.44h0" stroke="#2a2a2a" stroke-width="1.5" stroke-linecap="round"/><path d="M128.21 172.5h0M117.95 181.27h0M99.98 196.71h0M117.66 196.77h0M148.18 200.91h0M112.78 205h0M99.77 212.05h0M133.21 219.74h0M87.15 228h0M131.98 227.92h0M121.13 232.63h0M116.69 240.71h0M133.59 240.08h0" stroke="#555" stroke-width="2" stroke-linecap="round"/><path d="M137.58 173.61h0M150.91 173.47h0M120.24 177.29h0M152.18 175.9h0M137.68 181.1h0M146.86 180.5h0M120.12 184.15h0M115.16 193.16h0M125.34 199.9h0M129.96 201.34h0M138.27 201.53h0M143.53 200.77h0M88.47 209.29h0M120.31 208.93h0M150.11 211.87h0M93.84 216.46h0M111.13 215.74h0M125.29 217.32h0M144.71 216.1h0M128.46 229.35h0M97.53 233.77h0M110.75 233.06h0M109.21 236.31h0" stroke="#555" stroke-width="1.5" stroke-linecap="round"/><path d="M155.1 172.5h0M117.3 177.44h0M90.53 187.81h0M122.9 189.25h0M93.32 192.91h0M115.49 207.95h0M127.23 212.15h0M126.78 221.7h0M95.52 229.07h0M94.21 231.72h0M147.98 233.78h0M144.16 241.67h0" stroke="#222" stroke-width="2" stroke-linecap="round"/><path d="M88.61 177.72h0M130.39 176.95h0M148.5 176.95h0M88.31 185.55h0M94.62 195.96h0M98.8 199.77h0M117.14 201.57h0M106.08 209.91h0M106.96 217.67h0M94.7 220.63h0M103.08 224.54h0M100.82 236.5h0M118.93 236.54h0M136.51 236.09h0M97.62 240.66h0" stroke="#2a2a2a" stroke-width="2.5" stroke-linecap="round"/><path d="M93.81 175.82h0M112.16 177.83h0M144.05 183.84h0M127.06 188.72h0M136.56 204.84h0M141.02 204.33h0M85.54 213.73h0M120.56 215.68h0M148.16 217.46h0M151.9 216.07h0M142.3 236.34h0" stroke="#222" stroke-width="2.5" stroke-linecap="round"/><path d="M101.91 176.36h0M132.92 180.9h0M94.95 189.71h0M91.75 197.01h0M132.59 196.8h0M151.45 196.04h0M156.47 196.53h0M94.37 200.99h0M107.11 200.58h0M120.51 200.72h0M108.42 205.16h0M131.18 205h0M113 212.82h0M92.34 225.8h0M129.48 239.82h0" stroke="#2a2a2a" stroke-width="2" stroke-linecap="round"/><path d="M107.86 175.79h0M114.36 180.37h0" stroke="#2a2a2a" stroke-width="3" stroke-linecap="round"/><path d="M138.93 176.41h0M142.32 181.11h0M106.84 184.71h0M142.94 192.02h0M99.35 205.84h0M145.15 204.9h0M129.67 216.27h0M126.89 236.77h0M119.82 239.91h0" stroke="#222" stroke-width="1.5" stroke-linecap="round"/><path d="M137.03 197.7h0M90.28 221.59h0M124.77 233.34h0M103.03 241.14h0" stroke="#777" stroke-width="3" stroke-linecap="round"/><path d="M140.59 197.93h0M112.68 200.17h0M153.78 201.53h0M122.64 205.66h0M105.11 219.87h0M117.56 219.7h0M156.4 220.21h0M115.9 224.04h0M134.86 233.5h0M133.23 236.21h0" stroke="#333" stroke-width="2" stroke-linecap="round"/><path d="M146.04 197.3h0M126.85 204.74h0M87.48 217.56h0M106.95 224.47h0" stroke="#555" stroke-width="3" stroke-linecap="round"/><path d="M85.94 204.94h0M102.7 209.93h0M90.47 228.44h0M155.78 235.95h0" stroke="#333" stroke-width="3" stroke-linecap="round"/><rect x="126.9" y="240" width="30" height="3" fill="#080808" /><rect x="128.1" y="241.1" width="16.6" height="0.7" fill="#a0a0a0" /><rect x="146.1" y="240.8" width="4.2" height="1.4" fill="#909090" /><rect x="151.3" y="241" width="3.8" height="1.2" fill="#888" /></g><g clip-path="url(#c22)"><rect x="158.8" y="171.4" width="71.6" height="71.8" fill="#b6b6b6" /><circle cx="168.5" cy="175.3" r="1.55" fill="#1a1a1a" filter="url(#bl1)"/><circle cx="177" cy="174" r="1.55" fill="#1a1a1a" filter="url(#bl1)"/><circle cx="193.1" cy="175.7" r="1.75" fill="#1a1a1a" filter="url(#bl1)"/><circle cx="203.2" cy="175.3" r="1.95" fill="#1a1a1a" filter="url(#bl1)"/><circle cx="225.8" cy="175.3" r="1.95" fill="#1a1a1a" filter="url(#bl1)"/><circle cx="160.5" cy="186.4" r="1.75" fill="#1a1a1a" filter="url(#bl1)"/><circle cx="178.1" cy="185.4" r="1.95" fill="#1a1a1a" filter="url(#bl1)"/><circle cx="180.3" cy="185.4" r="1.75" fill="#1a1a1a" filter="url(#bl1)"/><circle cx="188.4" cy="184.7" r="1.75" fill="#1a1a1a" filter="url(#bl1)"/><circle cx="208.6" cy="180.4" r="1.75" fill="#1a1a1a" filter="url(#bl1)"/><circle cx="201.7" cy="184.3" r="1.55" fill="#1a1a1a" filter="url(#bl1)"/><circle cx="207.1" cy="186.9" r="1.75" fill="#666" filter="url(#bl1)"/><circle cx="226.4" cy="187.5" r="2.45" fill="#1a1a1a" filter="url(#bl1)"/><circle cx="218.8" cy="192.9" r="1.75" fill="#1a1a1a" filter="url(#bl1)"/><circle cx="195.3" cy="191.8" r="1.95" fill="#666" filter="url(#bl1)"/><circle cx="211.4" cy="198.2" r="2.25" fill="#1a1a1a" filter="url(#bl1)"/><circle cx="169.5" cy="198.2" r="1.75" fill="#1a1a1a" filter="url(#bl1)"/><circle cx="179.2" cy="197.6" r="1.95" fill="#1a1a1a" filter="url(#bl1)"/><circle cx="161.6" cy="200.4" r="1.75" fill="#666" filter="url(#bl1)"/><circle cx="193.1" cy="204" r="2.25" fill="#666" filter="url(#bl1)"/><circle cx="208.2" cy="205.3" r="1.75" fill="#1a1a1a" filter="url(#bl1)"/><circle cx="220" cy="201" r="1.55" fill="#666" filter="url(#bl1)"/><circle cx="164.2" cy="209" r="1.75" fill="#1a1a1a" filter="url(#bl1)"/><circle cx="172.8" cy="210" r="1.55" fill="#1a1a1a" filter="url(#bl1)"/><circle cx="181.3" cy="212.2" r="2.45" fill="#1a1a1a" filter="url(#bl1)"/><circle cx="189.9" cy="211.1" r="2.25" fill="#1a1a1a" filter="url(#bl1)"/><circle cx="198.1" cy="212.6" r="1.75" fill="#1a1a1a" filter="url(#bl1)"/><circle cx="223.2" cy="207.9" r="1.75" fill="#1a1a1a" filter="url(#bl1)"/><circle cx="204.9" cy="216.5" r="2.25" fill="#1a1a1a" filter="url(#bl1)"/><circle cx="213.5" cy="217.5" r="1.95" fill="#1a1a1a" filter="url(#bl1)"/><circle cx="221" cy="218.2" r="1.75" fill="#1a1a1a" filter="url(#bl1)"/><circle cx="170.6" cy="216.9" r="1.55" fill="#1a1a1a" filter="url(#bl1)"/><circle cx="175.5" cy="221.2" r="1.75" fill="#1a1a1a" filter="url(#bl1)"/><circle cx="161.6" cy="222.9" r="1.95" fill="#1a1a1a" filter="url(#bl1)"/><circle cx="163.5" cy="224" r="2.45" fill="#1a1a1a" filter="url(#bl1)"/><circle cx="194.9" cy="224.6" r="2.25" fill="#1a1a1a" filter="url(#bl1)"/><circle cx="210.3" cy="222.9" r="1.95" fill="#666" filter="url(#bl1)"/><circle cx="225.3" cy="222.9" r="1.55" fill="#1a1a1a" filter="url(#bl1)"/><circle cx="178.1" cy="229.4" r="1.55" fill="#666" filter="url(#bl1)"/><circle cx="195.3" cy="231.4" r="1.55" fill="#1a1a1a" filter="url(#bl1)"/><circle cx="203.8" cy="231.9" r="1.75" fill="#1a1a1a" filter="url(#bl1)"/><circle cx="215" cy="229.8" r="1.55" fill="#666" filter="url(#bl1)"/><circle cx="167.4" cy="234.3" r="2.65" fill="#1a1a1a" filter="url(#bl1)"/><circle cx="169.5" cy="236.4" r="1.75" fill="#1a1a1a" filter="url(#bl1)"/><circle cx="220" cy="235.8" r="2.45" fill="#1a1a1a" filter="url(#bl1)"/><circle cx="223.2" cy="237.9" r="1.75" fill="#1a1a1a" filter="url(#bl1)"/><circle cx="181.3" cy="239" r="1.55" fill="#1a1a1a" filter="url(#bl1)"/><circle cx="197.4" cy="237.9" r="1.75" fill="#666" filter="url(#bl1)"/><circle cx="227.5" cy="232.6" r="1.75" fill="#1a1a1a" filter="url(#bl1)"/><rect x="199.8" y="240" width="30" height="3" fill="#080808" /><rect x="201" y="241.1" width="16.6" height="0.7" fill="#a0a0a0" /><rect x="219" y="240.8" width="4.2" height="1.4" fill="#909090" /><rect x="224.2" y="241" width="3.8" height="1.2" fill="#888" /></g><g clip-path="url(#c30)"><rect x="12" y="244.5" width="72" height="71.3" fill="#a4a4a4" /><path d="M12.47 246.46h0M80.34 245.51h0M34.07 250.94h0M45.05 249.43h0M77.32 250.99h0M28.21 253.87h0M46.64 254.88h0M25.82 257.66h0M30.67 258.64h0M68.26 257.5h0M28.18 263.33h0M55.92 261.76h0M60.07 263.22h0M70.29 262.05h0M80.78 262.77h0M25.2 266.53h0M47.98 266.32h0M57.6 266.14h0M62.44 267.57h0M67.69 267.37h0M22.77 271.86h0M37.43 272h0M41.39 270.27h0M56.58 270.5h0M60.01 270.87h0M71.08 270.64h0M15.49 274.9h0M20.28 275.55h0M23.91 276.15h0M57.81 275.05h0M78.23 275.24h0M13.21 278.59h0M21.77 279.25h0M42.66 278.87h0M50.48 279.47h0M65.68 279.16h0M20.85 283.01h0M78.16 282.86h0M12.75 288.52h0M16.97 288.56h0M32.49 287.35h0M46.68 288.36h0M55.2 287.51h0M60.04 288.12h0M20.24 292.89h0M48.73 292.74h0M53.44 291.79h0M72.03 290.99h0M18.17 295.76h0M57.16 296.4h0M34.22 299.55h0M54.65 301.29h0M16.7 305.09h0M34.37 308.56h0M62.42 308.65h0M18.61 312.8h0M60.52 312.75h0M66.17 312.13h0" stroke="#c8c8c8" stroke-width="4.5" stroke-linecap="round"/><path d="M17.2 245.59h0M27.06 245.75h0M52.74 258.55h0M59.05 259.09h0M72.39 257.69h0M72 267.52h0M26.91 270.96h0M81.19 270.03h0M35.39 275.75h0M17.17 278.5h0M60.05 279.71h0M62.63 284.59h0M64.74 286.83h0M59.19 299.61h0M78.62 300.59h0M82.87 300.06h0M22.99 304.16h0M55.09 304.35h0M80.38 303.52h0M52.91 309h0M58.5 309.53h0M31.36 312.9h0" stroke="#c8c8c8" stroke-width="5" stroke-linecap="round"/><path d="M22.93 245.09h0M42.11 246.04h0M15.62 249.73h0M19.66 249.15h0M29.03 249.82h0M16.97 253.37h0M32.33 254.69h0M60.13 253.66h0M70.1 253.6h0M74.86 254.73h0M33.99 259.21h0M39.09 257.95h0M44.25 258.56h0M12.45 262.49h0M17.1 262.09h0M31.7 263.07h0M36.43 263.49h0M19.62 266.6h0M31.2 270.76h0M32.18 280.11h0M35.28 283.15h0M39.82 283.08h0M49.84 282.71h0M73.08 284.52h0M22.13 287.83h0M27.75 288.13h0M79.6 286.7h0M25.16 291.76h0M38.48 291.91h0M59.26 292.19h0M13.9 296.91h0M31.26 295.79h0M46.89 296.72h0M79.72 296.57h0M19.7 300.11h0M29.63 300.5h0M62.28 299.41h0M32.77 303.63h0M37.22 303.39h0M50.85 303.8h0M60.79 303.44h0M66.33 303.44h0M20.56 307.56h0M77.86 308.35h0M82 308.06h0M13.18 313.54h0M27.43 313.72h0" stroke="#c8c8c8" stroke-width="4" stroke-linecap="round"/><path d="M32.84 246.73h0M56.02 246.78h0M61.01 245.26h0M66.67 245.26h0M49.51 249.09h0M63.89 250.48h0M22.11 254.29h0M79.19 254.14h0M77.58 259h0M41.78 262.87h0M35.03 267.67h0M43.09 266.64h0M83.3 265.81h0M18.58 271.68h0M75.75 270.65h0M39.31 274.21h0M48.64 274.26h0M62.5 275.11h0M72 274.45h0M81.5 274.54h0M27.45 279.74h0M76.22 279.07h0M14.81 284.28h0M24.94 284.45h0M52.81 283.17h0M83.26 283.3h0M34.39 290.81h0M63.59 291.27h0M68.33 292.92h0M36.91 295.88h0M48.87 300.39h0M14.3 308.03h0M23.13 311.83h0M70.43 312.25h0" stroke="#c8c8c8" stroke-width="3.5" stroke-linecap="round"/><path d="M12.47 246.46h0M34.07 250.94h0M60.07 263.22h0M47.98 266.32h0M57.6 266.14h0M37.43 272h0M20.28 275.55h0M23.91 276.15h0M35.39 275.75h0M57.81 275.05h0M21.77 279.25h0M55.2 287.51h0M53.44 291.79h0M18.17 295.76h0M55.09 304.35h0" stroke="#333" stroke-width="3" stroke-linecap="round"/><path d="M17.2 245.59h0M59.05 259.09h0M62.63 284.59h0M82.87 300.06h0" stroke="#333" stroke-width="3.5" stroke-linecap="round"/><path d="M22.93 245.09h0M42.11 246.04h0M44.25 258.56h0M68.26 257.5h0M19.62 266.6h0M31.2 270.76h0M60.01 270.87h0M39.82 283.08h0M78.16 282.86h0M27.75 288.13h0M25.16 291.76h0M13.9 296.91h0M31.26 295.79h0M79.72 296.57h0M82 308.06h0" stroke="#333" stroke-width="2.5" stroke-linecap="round"/><path d="M27.06 245.75h0M58.5 309.53h0" stroke="#222" stroke-width="3.5" stroke-linecap="round"/><path d="M32.84 246.73h0M57.92 249.86h0M22.11 254.29h0M32.33 254.69h0M15.06 258.67h0M35.03 267.67h0M43.09 266.64h0M50.34 271.55h0M62.5 275.11h0M76.22 279.07h0M57.81 282.53h0M83.26 283.3h0M34.39 290.81h0M81.49 292.84h0M37.22 303.39h0M41.71 305.38h0M47.13 303.52h0M77.86 308.35h0M13.18 313.54h0M23.13 311.83h0M79.74 312.84h0" stroke="#333" stroke-width="2" stroke-linecap="round"/><path d="M47.47 246.87h0M65.66 270.03h0M67.11 283.63h0M43.28 292.38h0M75.1 295.88h0M72.6 300.23h0" stroke="#555" stroke-width="1.5" stroke-linecap="round"/><path d="M50.61 245.18h0M71.4 245.33h0M51.67 262.44h0M38.55 267.31h0M71.29 278.73h0M39.04 300.69h0M67.09 301.27h0M12.74 305.31h0M28.42 304.45h0M47.11 312.93h0" stroke="#222" stroke-width="1.5" stroke-linecap="round"/><path d="M56.02 246.78h0M15.62 249.73h0M38.73 250.6h0M72.38 249.62h0M12.45 262.49h0M83.3 265.81h0M24.94 284.45h0M70.07 287.41h0M75.99 287.22h0M68.33 292.92h0M62.28 299.41h0" stroke="#111" stroke-width="2" stroke-linecap="round"/><path d="M61.01 245.26h0M66.67 245.26h0M19.66 249.15h0M33.99 259.21h0M12.21 270.85h0M18.58 271.68h0M39.31 274.21h0M36.27 279.41h0M55.72 280.16h0M35.95 287.37h0M36.91 295.88h0M41.5 312.42h0M70.43 312.25h0M75.22 313.62h0" stroke="#1a1a1a" stroke-width="2" stroke-linecap="round"/><path d="M75.25 246.18h0M63.89 250.48h0M74.86 254.73h0M77.58 259h0M41.78 262.87h0M75.75 270.65h0M72 274.45h0M27.45 279.74h0M22.13 287.83h0M15.38 291.62h0M48.87 300.39h0M50.85 303.8h0" stroke="#222" stroke-width="2" stroke-linecap="round"/><path d="M80.34 245.51h0M77.32 250.99h0M67.69 267.37h0M26.91 270.96h0M50.48 279.47h0M65.68 279.16h0M16.97 288.56h0M32.49 287.35h0M64.74 286.83h0M72.03 290.99h0M57.16 296.4h0M34.22 299.55h0M54.65 301.29h0M18.61 312.8h0M60.52 312.75h0" stroke="#222" stroke-width="3" stroke-linecap="round"/><path d="M24.27 249.51h0M48.28 258.04h0M46.78 262.28h0M65.59 262.07h0M75.06 263.05h0M14.79 266.36h0M54.25 266.55h0M78.34 267.25h0M53.08 274.27h0M45.94 279.1h0M22.73 295.52h0M23.92 307.83h0" stroke="#1a1a1a" stroke-width="1.5" stroke-linecap="round"/><path d="M29.03 249.82h0M39.09 257.95h0M31.7 263.07h0M79.6 286.7h0M20.56 307.56h0M27.43 313.72h0" stroke="#1a1a1a" stroke-width="2.5" stroke-linecap="round"/><path d="M45.05 249.43h0M28.18 263.33h0M81.19 270.03h0M15.49 274.9h0M78.23 275.24h0M20.24 292.89h0M59.19 299.61h0" stroke="#111" stroke-width="3" stroke-linecap="round"/><path d="M49.51 249.09h0M79.19 254.14h0M48.64 274.26h0M81.5 274.54h0M14.81 284.28h0M49.84 282.71h0M52.81 283.17h0M73.08 284.52h0M63.59 291.27h0M66.33 303.44h0M14.3 308.03h0" stroke="#555" stroke-width="2" stroke-linecap="round"/><path d="M67.53 250.21h0M68.39 276.06h0M44.77 309.56h0M50.96 313.8h0" stroke="#111" stroke-width="1.5" stroke-linecap="round"/><path d="M83.53 249.76h0M13.9 254.01h0M40.78 253.95h0M82.24 259.09h0M30.54 265.85h0M30.68 274.56h0M45.24 275.06h0M28.82 283.66h0M28.98 291.9h0M26.5 295.06h0M38.04 313.09h0" stroke="#333" stroke-width="1.5" stroke-linecap="round"/><path d="M16.97 253.37h0M70.1 253.6h0M36.43 263.49h0M41.39 270.27h0M56.58 270.5h0" stroke="#111" stroke-width="2.5" stroke-linecap="round"/><path d="M28.21 253.87h0M25.82 257.66h0M70.29 262.05h0M80.78 262.77h0M25.2 266.53h0M72 267.52h0M13.21 278.59h0M12.75 288.52h0M60.04 288.12h0M80.38 303.52h0M34.37 308.56h0" stroke="#555" stroke-width="3" stroke-linecap="round"/><path d="M46.64 254.88h0M62.44 267.57h0M22.77 271.86h0M71.08 270.64h0M42.66 278.87h0M46.68 288.36h0M48.73 292.74h0M16.7 305.09h0M62.42 308.65h0M66.17 312.13h0" stroke="#1a1a1a" stroke-width="3" stroke-linecap="round"/><path d="M60.13 253.66h0M17.1 262.09h0M55.92 261.76h0M20.85 283.01h0M35.28 283.15h0M46.89 296.72h0M29.63 300.5h0" stroke="#222" stroke-width="2.5" stroke-linecap="round"/><path d="M30.67 258.64h0M32.18 280.11h0M38.48 291.91h0M59.26 292.19h0M19.7 300.11h0M32.77 303.63h0M60.79 303.44h0" stroke="#555" stroke-width="2.5" stroke-linecap="round"/><path d="M52.74 258.55h0M72.39 257.69h0M60.05 279.71h0M78.62 300.59h0" stroke="#555" stroke-width="3.5" stroke-linecap="round"/><path d="M17.17 278.5h0M22.99 304.16h0" stroke="#1a1a1a" stroke-width="3.5" stroke-linecap="round"/><path d="M52.91 309h0M31.36 312.9h0" stroke="#111" stroke-width="3.5" stroke-linecap="round"/><rect x="53.4" y="313" width="30" height="3" fill="#080808" /><rect x="54.6" y="314.1" width="16.6" height="0.7" fill="#a0a0a0" /><rect x="72.6" y="313.8" width="4.2" height="1.4" fill="#909090" /><rect x="77.8" y="314" width="3.8" height="1.2" fill="#888" /></g><g clip-path="url(#c31)"><rect x="85.4" y="244.5" width="72.1" height="71.3" fill="#8f8f8f" /><circle cx="136.8" cy="272.3" r="2.8" fill="#080808" filter="url(#bl1)"/><circle cx="141.1" cy="280.9" r="3" fill="#080808" filter="url(#bl1)"/><circle cx="153.1" cy="283.6" r="3.9" fill="#080808" filter="url(#bl1)"/><circle cx="90.3" cy="297.4" r="4.3" fill="#080808" filter="url(#bl1)"/><rect x="126.9" y="313" width="30" height="3" fill="#080808" /><rect x="128.1" y="314.1" width="16.6" height="0.7" fill="#a0a0a0" /><rect x="146.1" y="313.8" width="4.2" height="1.4" fill="#909090" /><rect x="151.3" y="314" width="3.8" height="1.2" fill="#888" /></g><g clip-path="url(#c32)"><rect x="158.8" y="244.5" width="71.6" height="71.3" fill="#8d8d8d" /><circle cx="181.6" cy="268.4" r="7.8" fill="#080808" filter="url(#bl1)"/><circle cx="198.1" cy="262" r="7.2" fill="#080808" filter="url(#bl1)"/><circle cx="167.7" cy="278.1" r="4.1" fill="#080808" filter="url(#bl1)"/><rect x="199.8" y="313" width="30" height="3" fill="#080808" /><rect x="201" y="314.1" width="16.6" height="0.7" fill="#a0a0a0" /><rect x="219" y="313.8" width="4.2" height="1.4" fill="#909090" /><rect x="224.2" y="314" width="3.8" height="1.2" fill="#888" /></g><text x="45.5" y="23" font-size="6.9" font-weight="bold" text-anchor="middle">5-10-10</text><text x="121" y="23" font-size="6.9" font-weight="bold" text-anchor="middle">10-10-10</text><text x="194.5" y="23" font-size="6.9" font-weight="bold" text-anchor="middle">20-10-10</text><text transform="translate(8.7,60.4) rotate(-90)" font-size="7.2" font-weight="bold" stroke="#000" stroke-width="0.15" text-anchor="middle" textLength="9.2" lengthAdjust="spacingAndGlyphs">PEI</text><text transform="translate(7.7,134) rotate(-90)" font-size="7.2" font-weight="bold" stroke="#000" stroke-width="0.15" text-anchor="middle" textLength="31.2" lengthAdjust="spacingAndGlyphs">PEG-b-PEI</text><text transform="translate(10,206.9) rotate(-90)" font-size="7.2" font-weight="bold" stroke="#000" stroke-width="0.15" text-anchor="middle" textLength="35.9" lengthAdjust="spacingAndGlyphs">PEG-s-PEI-1</text><text transform="translate(10.2,280.2) rotate(-90)" font-size="7.2" font-weight="bold" stroke="#000" stroke-width="0.15" text-anchor="middle" textLength="36" lengthAdjust="spacingAndGlyphs">PEG-s-PEI-2</text><text transform="translate(0.2,13.9) scale(0.83,1)" font-size="20.5" stroke="#000" stroke-width="0.45">a</text><text x="230.6" y="15.7" font-size="21" stroke="#000" stroke-width="0.45">b</text><text x="232.8" y="174.9" font-size="19.5" stroke="#000" stroke-width="0.45">c</text><text x="446.4" y="15.6" font-size="21" stroke="#000" stroke-width="0.45">d</text><text x="456" y="175.6" font-size="20.5" stroke="#000" stroke-width="0.45">e</text><rect x="274.9" y="88" width="10.3" height="49.2" fill="#800080" /><line x1="280.05" y1="86.3" x2="280.05" y2="88" stroke="#800080" stroke-width="1" /><line x1="278.55" y1="86.3" x2="281.55" y2="86.3" stroke="#800080" stroke-width="1" /><rect x="285.7" y="85.4" width="10.3" height="51.8" fill="#800000" /><line x1="290.85" y1="84.2" x2="290.85" y2="85.4" stroke="#800000" stroke-width="1" /><line x1="289.35" y1="84.2" x2="292.35" y2="84.2" stroke="#800000" stroke-width="1" /><rect x="296.8" y="64" width="10.3" height="73.2" fill="#ff0080" /><line x1="301.95" y1="61.7" x2="301.95" y2="64" stroke="#ff0080" stroke-width="1" /><line x1="300.45" y1="61.7" x2="303.45" y2="61.7" stroke="#ff0080" stroke-width="1" /><rect x="316.3" y="64.9" width="10.3" height="72.3" fill="#800080" /><line x1="321.45" y1="62.2" x2="321.45" y2="64.9" stroke="#800080" stroke-width="1" /><line x1="319.95" y1="62.2" x2="322.95" y2="62.2" stroke="#800080" stroke-width="1" /><rect x="327.1" y="55.9" width="10.3" height="81.3" fill="#800000" /><line x1="332.25" y1="52.6" x2="332.25" y2="55.9" stroke="#800000" stroke-width="1" /><line x1="330.75" y1="52.6" x2="333.75" y2="52.6" stroke="#800000" stroke-width="1" /><rect x="338.2" y="47.2" width="10.3" height="90" fill="#ff0080" /><line x1="343.35" y1="45.2" x2="343.35" y2="47.2" stroke="#ff0080" stroke-width="1" /><line x1="341.85" y1="45.2" x2="344.85" y2="45.2" stroke="#ff0080" stroke-width="1" /><rect x="357.7" y="84.6" width="10.3" height="52.6" fill="#800080" /><line x1="362.85" y1="82.8" x2="362.85" y2="84.6" stroke="#800080" stroke-width="1" /><line x1="361.35" y1="82.8" x2="364.35" y2="82.8" stroke="#800080" stroke-width="1" /><rect x="368.5" y="81" width="10.3" height="56.2" fill="#800000" /><line x1="373.65" y1="78.4" x2="373.65" y2="81" stroke="#800000" stroke-width="1" /><line x1="372.15" y1="78.4" x2="375.15" y2="78.4" stroke="#800000" stroke-width="1" /><rect x="379.6" y="54.9" width="10.3" height="82.3" fill="#ff0080" /><line x1="384.75" y1="52.3" x2="384.75" y2="54.9" stroke="#ff0080" stroke-width="1" /><line x1="383.25" y1="52.3" x2="386.25" y2="52.3" stroke="#ff0080" stroke-width="1" /><rect x="399.1" y="68.1" width="10.3" height="69.1" fill="#800080" /><line x1="404.25" y1="67.3" x2="404.25" y2="68.1" stroke="#800080" stroke-width="1" /><line x1="402.75" y1="67.3" x2="405.75" y2="67.3" stroke="#800080" stroke-width="1" /><rect x="409.9" y="63.2" width="10.3" height="74" fill="#800000" /><line x1="415.05" y1="62" x2="415.05" y2="63.2" stroke="#800000" stroke-width="1" /><line x1="413.55" y1="62" x2="416.55" y2="62" stroke="#800000" stroke-width="1" /><rect x="421" y="49.9" width="10.3" height="87.3" fill="#ff0080" /><line x1="426.15" y1="49" x2="426.15" y2="49.9" stroke="#ff0080" stroke-width="1" /><line x1="424.65" y1="49" x2="427.65" y2="49" stroke="#ff0080" stroke-width="1" /><line x1="270.5" y1="13.5" x2="270.5" y2="137.7" stroke="#222" stroke-width="1.15" /><line x1="270" y1="137.2" x2="436.3" y2="137.2" stroke="#222" stroke-width="1.15" /><line x1="267.6" y1="137.2" x2="270.5" y2="137.2" stroke="#222" stroke-width="0.9" /><text x="265.8" y="138.96" font-size="6.3" font-weight="bold" text-anchor="end" stroke="#000" stroke-width="0.15">0</text><line x1="267.6" y1="124.83" x2="270.5" y2="124.83" stroke="#222" stroke-width="0.9" /><text x="265.8" y="126.59" font-size="6.3" font-weight="bold" text-anchor="end" stroke="#000" stroke-width="0.15">20</text><line x1="267.6" y1="112.46" x2="270.5" y2="112.46" stroke="#222" stroke-width="0.9" /><text x="265.8" y="114.22" font-size="6.3" font-weight="bold" text-anchor="end" stroke="#000" stroke-width="0.15">40</text><line x1="267.6" y1="100.09" x2="270.5" y2="100.09" stroke="#222" stroke-width="0.9" /><text x="265.8" y="101.85" font-size="6.3" font-weight="bold" text-anchor="end" stroke="#000" stroke-width="0.15">60</text><line x1="267.6" y1="87.72" x2="270.5" y2="87.72" stroke="#222" stroke-width="0.9" /><text x="265.8" y="89.48" font-size="6.3" font-weight="bold" text-anchor="end" stroke="#000" stroke-width="0.15">80</text><line x1="267.6" y1="75.35" x2="270.5" y2="75.35" stroke="#222" stroke-width="0.9" /><text x="265.8" y="77.11" font-size="6.3" font-weight="bold" text-anchor="end" stroke="#000" stroke-width="0.15">100</text><line x1="267.6" y1="62.98" x2="270.5" y2="62.98" stroke="#222" stroke-width="0.9" /><text x="265.8" y="64.74" font-size="6.3" font-weight="bold" text-anchor="end" stroke="#000" stroke-width="0.15">120</text><line x1="267.6" y1="50.61" x2="270.5" y2="50.61" stroke="#222" stroke-width="0.9" /><text x="265.8" y="52.37" font-size="6.3" font-weight="bold" text-anchor="end" stroke="#000" stroke-width="0.15">140</text><line x1="267.6" y1="38.24" x2="270.5" y2="38.24" stroke="#222" stroke-width="0.9" /><text x="265.8" y="40" font-size="6.3" font-weight="bold" text-anchor="end" stroke="#000" stroke-width="0.15">160</text><line x1="267.6" y1="25.87" x2="270.5" y2="25.87" stroke="#222" stroke-width="0.9" /><text x="265.8" y="27.63" font-size="6.3" font-weight="bold" text-anchor="end" stroke="#000" stroke-width="0.15">180</text><line x1="267.6" y1="13.5" x2="270.5" y2="13.5" stroke="#222" stroke-width="0.9" /><text x="265.8" y="15.26" font-size="6.3" font-weight="bold" text-anchor="end" stroke="#000" stroke-width="0.15">200</text><line x1="269" y1="131.01" x2="270.5" y2="131.01" stroke="#222" stroke-width="0.9" /><line x1="269" y1="118.64" x2="270.5" y2="118.64" stroke="#222" stroke-width="0.9" /><line x1="269" y1="106.27" x2="270.5" y2="106.27" stroke="#222" stroke-width="0.9" /><line x1="269" y1="93.9" x2="270.5" y2="93.9" stroke="#222" stroke-width="0.9" /><line x1="269" y1="81.53" x2="270.5" y2="81.53" stroke="#222" stroke-width="0.9" /><line x1="269" y1="69.16" x2="270.5" y2="69.16" stroke="#222" stroke-width="0.9" /><line x1="269" y1="56.79" x2="270.5" y2="56.79" stroke="#222" stroke-width="0.9" /><line x1="269" y1="44.42" x2="270.5" y2="44.42" stroke="#222" stroke-width="0.9" /><line x1="269" y1="32.05" x2="270.5" y2="32.05" stroke="#222" stroke-width="0.9" /><line x1="269" y1="19.68" x2="270.5" y2="19.68" stroke="#222" stroke-width="0.9" /><line x1="291" y1="137.2" x2="291" y2="139.2" stroke="#222" stroke-width="0.9" /><line x1="332.4" y1="137.2" x2="332.4" y2="139.2" stroke="#222" stroke-width="0.9" /><line x1="373.8" y1="137.2" x2="373.8" y2="139.2" stroke="#222" stroke-width="0.9" /><line x1="415.2" y1="137.2" x2="415.2" y2="139.2" stroke="#222" stroke-width="0.9" /><line x1="311.7" y1="137.2" x2="311.7" y2="138.4" stroke="#222" stroke-width="0.9" /><line x1="353.1" y1="137.2" x2="353.1" y2="138.4" stroke="#222" stroke-width="0.9" /><line x1="394.5" y1="137.2" x2="394.5" y2="138.4" stroke="#222" stroke-width="0.9" /><text x="382.8" y="18" font-size="6.8" font-weight="bold" textLength="55.7" lengthAdjust="spacingAndGlyphs">DTX/IND/Polymer</text><rect x="383" y="21" width="15" height="5" fill="#800080" /><text x="400.6" y="26" font-size="7">5-10-10</text><rect x="383" y="29.7" width="15" height="5" fill="#800000" /><text x="400.6" y="34.7" font-size="7">10-10-10</text><rect x="383" y="38.5" width="15" height="5" fill="#ff0080" /><text x="400.6" y="43.5" font-size="7">20-10-10</text><text transform="translate(248.3,104.9) rotate(-90)" font-size="12" font-weight="bold"><tspan font-style="italic">D</tspan><tspan font-size="7.5" font-style="italic" dy="4">h</tspan><tspan dy="-4"> (nm)</tspan></text><rect x="274.2" y="218" width="11.1" height="101.2" fill="#800080" /><line x1="279.75" y1="214.6" x2="279.75" y2="218" stroke="#800080" stroke-width="0.6" /><line x1="278.65" y1="214.6" x2="280.85" y2="214.6" stroke="#800080" stroke-width="0.6" /><rect x="285.7" y="209.6" width="11.1" height="109.6" fill="#800000" /><line x1="291.25" y1="204.3" x2="291.25" y2="209.6" stroke="#800000" stroke-width="0.6" /><line x1="290.15" y1="204.3" x2="292.35" y2="204.3" stroke="#800000" stroke-width="0.6" /><rect x="297.1" y="214.1" width="11.1" height="105.1" fill="#ff0080" /><line x1="302.65" y1="208.3" x2="302.65" y2="214.1" stroke="#ff0080" stroke-width="0.6" /><line x1="301.55" y1="208.3" x2="303.75" y2="208.3" stroke="#ff0080" stroke-width="0.6" /><rect x="317.4" y="297.2" width="11.1" height="22" fill="#800080" /><rect x="328.9" y="295.4" width="11.1" height="23.8" fill="#800000" /><line x1="334.45" y1="289.1" x2="334.45" y2="295.4" stroke="#800000" stroke-width="0.6" /><line x1="333.35" y1="289.1" x2="335.55" y2="289.1" stroke="#800000" stroke-width="0.6" /><rect x="340.3" y="291.8" width="11.1" height="27.4" fill="#ff0080" /><line x1="345.85" y1="288.5" x2="345.85" y2="291.8" stroke="#ff0080" stroke-width="0.6" /><line x1="344.75" y1="288.5" x2="346.95" y2="288.5" stroke="#ff0080" stroke-width="0.6" /><rect x="360.8" y="273.5" width="11.1" height="45.7" fill="#800080" /><line x1="366.35" y1="268.5" x2="366.35" y2="273.5" stroke="#800080" stroke-width="0.6" /><line x1="365.25" y1="268.5" x2="367.45" y2="268.5" stroke="#800080" stroke-width="0.6" /><rect x="372.3" y="276.5" width="11.1" height="42.7" fill="#800000" /><line x1="377.85" y1="272.8" x2="377.85" y2="276.5" stroke="#800000" stroke-width="0.6" /><line x1="376.75" y1="272.8" x2="378.95" y2="272.8" stroke="#800000" stroke-width="0.6" /><rect x="383.7" y="266.1" width="11.1" height="53.1" fill="#ff0080" /><line x1="389.25" y1="254.8" x2="389.25" y2="266.1" stroke="#ff0080" stroke-width="0.6" /><line x1="388.15" y1="254.8" x2="390.35" y2="254.8" stroke="#ff0080" stroke-width="0.6" /><rect x="404" y="293" width="11.1" height="26.2" fill="#800080" /><line x1="409.55" y1="287" x2="409.55" y2="293" stroke="#800080" stroke-width="0.6" /><line x1="408.45" y1="287" x2="410.65" y2="287" stroke="#800080" stroke-width="0.6" /><rect x="415.5" y="295" width="11.1" height="24.2" fill="#800000" /><line x1="421.05" y1="290.4" x2="421.05" y2="295" stroke="#800000" stroke-width="0.6" /><line x1="419.95" y1="290.4" x2="422.15" y2="290.4" stroke="#800000" stroke-width="0.6" /><rect x="426.9" y="296.5" width="11.1" height="22.7" fill="#ff0080" /><line x1="432.45" y1="289.6" x2="432.45" y2="296.5" stroke="#ff0080" stroke-width="0.6" /><line x1="431.35" y1="289.6" x2="433.55" y2="289.6" stroke="#ff0080" stroke-width="0.6" /><line x1="269.8" y1="191.31" x2="269.8" y2="319.7" stroke="#222" stroke-width="1.15" /><line x1="269.3" y1="319.2" x2="443" y2="319.2" stroke="#222" stroke-width="1.15" /><line x1="266.9" y1="319.2" x2="269.8" y2="319.2" stroke="#222" stroke-width="0.9" /><text x="265.4" y="321.05" font-size="6.6" font-weight="bold" text-anchor="end" stroke="#000" stroke-width="0.15">0</text><line x1="266.9" y1="300.93" x2="269.8" y2="300.93" stroke="#222" stroke-width="0.9" /><text x="265.4" y="302.78" font-size="6.6" font-weight="bold" text-anchor="end" stroke="#000" stroke-width="0.15">10</text><line x1="266.9" y1="282.66" x2="269.8" y2="282.66" stroke="#222" stroke-width="0.9" /><text x="265.4" y="284.51" font-size="6.6" font-weight="bold" text-anchor="end" stroke="#000" stroke-width="0.15">20</text><line x1="266.9" y1="264.39" x2="269.8" y2="264.39" stroke="#222" stroke-width="0.9" /><text x="265.4" y="266.24" font-size="6.6" font-weight="bold" text-anchor="end" stroke="#000" stroke-width="0.15">30</text><line x1="266.9" y1="246.12" x2="269.8" y2="246.12" stroke="#222" stroke-width="0.9" /><text x="265.4" y="247.97" font-size="6.6" font-weight="bold" text-anchor="end" stroke="#000" stroke-width="0.15">40</text><line x1="266.9" y1="227.85" x2="269.8" y2="227.85" stroke="#222" stroke-width="0.9" /><text x="265.4" y="229.7" font-size="6.6" font-weight="bold" text-anchor="end" stroke="#000" stroke-width="0.15">50</text><line x1="266.9" y1="209.58" x2="269.8" y2="209.58" stroke="#222" stroke-width="0.9" /><text x="265.4" y="211.43" font-size="6.6" font-weight="bold" text-anchor="end" stroke="#000" stroke-width="0.15">60</text><line x1="266.9" y1="191.31" x2="269.8" y2="191.31" stroke="#222" stroke-width="0.9" /><text x="265.4" y="193.16" font-size="6.6" font-weight="bold" text-anchor="end" stroke="#000" stroke-width="0.15">70</text><line x1="268.3" y1="310.06" x2="269.8" y2="310.06" stroke="#222" stroke-width="0.9" /><line x1="268.3" y1="291.79" x2="269.8" y2="291.79" stroke="#222" stroke-width="0.9" /><line x1="268.3" y1="273.52" x2="269.8" y2="273.52" stroke="#222" stroke-width="0.9" /><line x1="268.3" y1="255.25" x2="269.8" y2="255.25" stroke="#222" stroke-width="0.9" /><line x1="268.3" y1="236.98" x2="269.8" y2="236.98" stroke="#222" stroke-width="0.9" /><line x1="268.3" y1="218.71" x2="269.8" y2="218.71" stroke="#222" stroke-width="0.9" /><line x1="268.3" y1="200.44" x2="269.8" y2="200.44" stroke="#222" stroke-width="0.9" /><line x1="291.2" y1="319.2" x2="291.2" y2="321.2" stroke="#222" stroke-width="0.9" /><line x1="334.4" y1="319.2" x2="334.4" y2="321.2" stroke="#222" stroke-width="0.9" /><line x1="377.8" y1="319.2" x2="377.8" y2="321.2" stroke="#222" stroke-width="0.9" /><line x1="421" y1="319.2" x2="421" y2="321.2" stroke="#222" stroke-width="0.9" /><line x1="312.8" y1="319.2" x2="312.8" y2="320.4" stroke="#222" stroke-width="0.9" /><line x1="356" y1="319.2" x2="356" y2="320.4" stroke="#222" stroke-width="0.9" /><line x1="399.4" y1="319.2" x2="399.4" y2="320.4" stroke="#222" stroke-width="0.9" /><text x="383.8" y="206.6" font-size="7" font-weight="bold" textLength="58.2" lengthAdjust="spacingAndGlyphs">DTX/IND/Polymer</text><rect x="385.2" y="211.4" width="19.1" height="6.6" fill="#800080" /><text x="407.4" y="217.9" font-size="8.6">5-10-10</text><rect x="385.2" y="222.1" width="19.1" height="6.6" fill="#800000" /><text x="407.4" y="228.6" font-size="8.6">10-10-10</text><rect x="385.2" y="233" width="19.1" height="6.6" fill="#ff0080" /><text x="407.4" y="239.5" font-size="8.6">20-10-10</text><text transform="translate(251.9,310.2) rotate(-90)" font-size="11" font-weight="bold" textLength="95.6" lengthAdjust="spacingAndGlyphs">zeta potential (mv)</text><rect x="490.5" y="112.4" width="11.1" height="25.5" fill="#800080" /><line x1="496.05" y1="111.3" x2="496.05" y2="112.4" stroke="#800080" stroke-width="1" /><line x1="494.55" y1="111.3" x2="497.55" y2="111.3" stroke="#800080" stroke-width="1" /><rect x="502.3" y="80.9" width="11.1" height="57" fill="#800000" /><line x1="507.85" y1="76.1" x2="507.85" y2="80.9" stroke="#800000" stroke-width="1" /><line x1="506.35" y1="76.1" x2="509.35" y2="76.1" stroke="#800000" stroke-width="1" /><rect x="513.6" y="48.1" width="11.1" height="89.8" fill="#ff0080" /><line x1="519.15" y1="45.3" x2="519.15" y2="48.1" stroke="#ff0080" stroke-width="1" /><line x1="517.65" y1="45.3" x2="520.65" y2="45.3" stroke="#ff0080" stroke-width="1" /><rect x="534" y="117.9" width="11.1" height="20" fill="#800080" /><line x1="539.55" y1="111.3" x2="539.55" y2="117.9" stroke="#800080" stroke-width="1" /><line x1="538.05" y1="111.3" x2="541.05" y2="111.3" stroke="#800080" stroke-width="1" /><rect x="545.8" y="97.5" width="11.1" height="40.4" fill="#800000" /><line x1="551.35" y1="85.4" x2="551.35" y2="97.5" stroke="#800000" stroke-width="1" /><line x1="549.85" y1="85.4" x2="552.85" y2="85.4" stroke="#800000" stroke-width="1" /><rect x="557.1" y="88.8" width="11.1" height="49.1" fill="#ff0080" /><line x1="562.65" y1="82.2" x2="562.65" y2="88.8" stroke="#ff0080" stroke-width="1" /><line x1="561.15" y1="82.2" x2="564.15" y2="82.2" stroke="#ff0080" stroke-width="1" /><rect x="577.6" y="113.7" width="11.1" height="24.2" fill="#800080" /><line x1="583.15" y1="111" x2="583.15" y2="113.7" stroke="#800080" stroke-width="1" /><line x1="581.65" y1="111" x2="584.65" y2="111" stroke="#800080" stroke-width="1" /><rect x="589.4" y="88.3" width="11.1" height="49.6" fill="#800000" /><line x1="594.95" y1="83.9" x2="594.95" y2="88.3" stroke="#800000" stroke-width="1" /><line x1="593.45" y1="83.9" x2="596.45" y2="83.9" stroke="#800000" stroke-width="1" /><rect x="600.7" y="58.3" width="11.1" height="79.6" fill="#ff0080" /><line x1="606.25" y1="49.7" x2="606.25" y2="58.3" stroke="#ff0080" stroke-width="1" /><line x1="604.75" y1="49.7" x2="607.75" y2="49.7" stroke="#ff0080" stroke-width="1" /><rect x="621.1" y="123.6" width="11.1" height="14.3" fill="#800080" /><line x1="626.65" y1="118.2" x2="626.65" y2="123.6" stroke="#800080" stroke-width="1" /><line x1="625.15" y1="118.2" x2="628.15" y2="118.2" stroke="#800080" stroke-width="1" /><rect x="632.9" y="99.3" width="11.1" height="38.6" fill="#800000" /><line x1="638.45" y1="92.3" x2="638.45" y2="99.3" stroke="#800000" stroke-width="1" /><line x1="636.95" y1="92.3" x2="639.95" y2="92.3" stroke="#800000" stroke-width="1" /><rect x="644.2" y="81.2" width="11.1" height="56.7" fill="#ff0080" /><line x1="649.75" y1="74.3" x2="649.75" y2="81.2" stroke="#ff0080" stroke-width="1" /><line x1="648.25" y1="74.3" x2="651.25" y2="74.3" stroke="#ff0080" stroke-width="1" /><line x1="485.6" y1="10.4" x2="485.6" y2="138.4" stroke="#222" stroke-width="1.15" /><line x1="485.1" y1="137.9" x2="660" y2="137.9" stroke="#222" stroke-width="1.15" /><line x1="482.7" y1="137.9" x2="485.6" y2="137.9" stroke="#222" stroke-width="0.9" /><text x="481.1" y="140.31" font-size="7.3" font-weight="bold" text-anchor="end" stroke="#000" stroke-width="0.15">0</text><line x1="482.7" y1="119.69" x2="485.6" y2="119.69" stroke="#222" stroke-width="0.9" /><text x="481.1" y="122.1" font-size="7.3" font-weight="bold" text-anchor="end" stroke="#000" stroke-width="0.15">10</text><line x1="482.7" y1="101.47" x2="485.6" y2="101.47" stroke="#222" stroke-width="0.9" /><text x="481.1" y="103.88" font-size="7.3" font-weight="bold" text-anchor="end" stroke="#000" stroke-width="0.15">20</text><line x1="482.7" y1="83.26" x2="485.6" y2="83.26" stroke="#222" stroke-width="0.9" /><text x="481.1" y="85.67" font-size="7.3" font-weight="bold" text-anchor="end" stroke="#000" stroke-width="0.15">30</text><line x1="482.7" y1="65.04" x2="485.6" y2="65.04" stroke="#222" stroke-width="0.9" /><text x="481.1" y="67.45" font-size="7.3" font-weight="bold" text-anchor="end" stroke="#000" stroke-width="0.15">40</text><line x1="482.7" y1="46.83" x2="485.6" y2="46.83" stroke="#222" stroke-width="0.9" /><text x="481.1" y="49.24" font-size="7.3" font-weight="bold" text-anchor="end" stroke="#000" stroke-width="0.15">50</text><line x1="482.7" y1="28.62" x2="485.6" y2="28.62" stroke="#222" stroke-width="0.9" /><text x="481.1" y="31.03" font-size="7.3" font-weight="bold" text-anchor="end" stroke="#000" stroke-width="0.15">60</text><line x1="482.7" y1="10.4" x2="485.6" y2="10.4" stroke="#222" stroke-width="0.9" /><text x="481.1" y="12.81" font-size="7.3" font-weight="bold" text-anchor="end" stroke="#000" stroke-width="0.15">70</text><line x1="484.1" y1="128.79" x2="485.6" y2="128.79" stroke="#222" stroke-width="0.9" /><line x1="484.1" y1="110.58" x2="485.6" y2="110.58" stroke="#222" stroke-width="0.9" /><line x1="484.1" y1="92.37" x2="485.6" y2="92.37" stroke="#222" stroke-width="0.9" /><line x1="484.1" y1="74.15" x2="485.6" y2="74.15" stroke="#222" stroke-width="0.9" /><line x1="484.1" y1="55.94" x2="485.6" y2="55.94" stroke="#222" stroke-width="0.9" /><line x1="484.1" y1="37.72" x2="485.6" y2="37.72" stroke="#222" stroke-width="0.9" /><line x1="484.1" y1="19.51" x2="485.6" y2="19.51" stroke="#222" stroke-width="0.9" /><line x1="507.6" y1="137.9" x2="507.6" y2="139.9" stroke="#222" stroke-width="0.9" /><line x1="551.1" y1="137.9" x2="551.1" y2="139.9" stroke="#222" stroke-width="0.9" /><line x1="594.7" y1="137.9" x2="594.7" y2="139.9" stroke="#222" stroke-width="0.9" /><line x1="638.2" y1="137.9" x2="638.2" y2="139.9" stroke="#222" stroke-width="0.9" /><line x1="529.35" y1="137.9" x2="529.35" y2="139.1" stroke="#222" stroke-width="0.9" /><line x1="572.85" y1="137.9" x2="572.85" y2="139.1" stroke="#222" stroke-width="0.9" /><line x1="616.45" y1="137.9" x2="616.45" y2="139.1" stroke="#222" stroke-width="0.9" /><text x="609.8" y="19.7" font-size="6.9" font-weight="bold" textLength="50.8" lengthAdjust="spacingAndGlyphs">DTX/IND/Polymer</text><rect x="610.2" y="21.7" width="16.5" height="7.3" fill="#800080" /><text x="658.7" y="28.2" font-size="7.8" text-anchor="end">5-10-10</text><rect x="610.2" y="31.1" width="16.5" height="7.3" fill="#800000" /><text x="658.7" y="37.6" font-size="7.8" text-anchor="end">10-10-10</text><rect x="610.2" y="40" width="16.5" height="7.3" fill="#ff0080" /><text x="658.7" y="46.5" font-size="7.8" text-anchor="end">20-10-10</text><text transform="translate(468.5,108.8) rotate(-90)" font-size="9.8" font-weight="bold" textLength="69.3" lengthAdjust="spacingAndGlyphs">DTX loading (%)</text><text transform="translate(274,145.5) rotate(13)" font-size="8" font-style="italic" textLength="10.94" lengthAdjust="spacingAndGlyphs" stroke="#000" stroke-width="0.3">PEI</text><text transform="translate(316,145) rotate(13)" font-size="8" font-style="italic" textLength="35.23" lengthAdjust="spacingAndGlyphs" stroke="#000" stroke-width="0.3">PEG--b-PEI</text><text transform="translate(357.5,144.5) rotate(13)" font-size="8" font-style="italic" textLength="39.09" lengthAdjust="spacingAndGlyphs" stroke="#000" stroke-width="0.3">PEG-s-PEI-1</text><text transform="translate(399.5,144.5) rotate(13)" font-size="8" font-style="italic" textLength="39.09" lengthAdjust="spacingAndGlyphs" stroke="#000" stroke-width="0.3">PEG-s-PEI-2</text><text transform="translate(274,328.5) rotate(13)" font-size="8" font-style="italic" textLength="11.4" lengthAdjust="spacingAndGlyphs" stroke="#000" stroke-width="0.3">PEI</text><text transform="translate(317.5,327) rotate(13)" font-size="8" font-style="italic" textLength="34.25" lengthAdjust="spacingAndGlyphs" stroke="#000" stroke-width="0.3">PEG-b-PEI</text><text transform="translate(360,328.5) rotate(13)" font-size="8" font-style="italic" textLength="41.05" lengthAdjust="spacingAndGlyphs" stroke="#000" stroke-width="0.3">PEG-s-PEI-1</text><text transform="translate(404,327.5) rotate(13)" font-size="8" font-style="italic" textLength="40.05" lengthAdjust="spacingAndGlyphs" stroke="#000" stroke-width="0.3">PEG-s-PEI-2</text><text transform="translate(499.5,150.5) rotate(13)" font-size="8" font-style="italic" textLength="11.91" lengthAdjust="spacingAndGlyphs" stroke="#000" stroke-width="0.3">PEI</text><text transform="translate(530,147) rotate(13)" font-size="8" font-style="italic" textLength="38.57" lengthAdjust="spacingAndGlyphs" stroke="#000" stroke-width="0.3">PEG--b-PEI</text><text transform="translate(573,146.5) rotate(13)" font-size="8" font-style="italic" textLength="40.54" lengthAdjust="spacingAndGlyphs" stroke="#000" stroke-width="0.3">PEG-s-PEI-1</text><text transform="translate(615.5,146.5) rotate(13)" font-size="8" font-style="italic" textLength="42.44" lengthAdjust="spacingAndGlyphs" stroke="#000" stroke-width="0.3">PEG-s-PEI-2</text><polyline points="481,317.74 493.6,312.01 506.2,314.3 531.4,310.18" fill="none" stroke="#ff77ff" stroke-width="1.1"/><rect x="479.9" y="316.64" width="2.2" height="2.2" fill="#ff77ff"/><rect x="492.5" y="310.91" width="2.2" height="2.2" fill="#ff77ff"/><rect x="505.1" y="313.2" width="2.2" height="2.2" fill="#ff77ff"/><rect x="530.3" y="309.08" width="2.2" height="2.2" fill="#ff77ff"/><polyline points="481,317.74 493.6,314.3 506.2,309.04 531.4,316.59" fill="none" stroke="#8b1a1a" stroke-width="1.1"/><rect x="479.9" y="316.64" width="2.2" height="2.2" fill="#8b1a1a"/><rect x="492.5" y="313.2" width="2.2" height="2.2" fill="#8b1a1a"/><rect x="505.1" y="307.94" width="2.2" height="2.2" fill="#8b1a1a"/><rect x="530.3" y="315.49" width="2.2" height="2.2" fill="#8b1a1a"/><polyline points="481,317.74 493.6,319.11 506.2,312.93 531.4,307.2" fill="none" stroke="#8b1a8b" stroke-width="1.1"/><rect x="479.9" y="316.64" width="2.2" height="2.2" fill="#8b1a8b"/><rect x="492.5" y="318.01" width="2.2" height="2.2" fill="#8b1a8b"/><rect x="505.1" y="311.83" width="2.2" height="2.2" fill="#8b1a8b"/><rect x="530.3" y="306.1" width="2.2" height="2.2" fill="#8b1a8b"/><line x1="493.6" y1="306.06" x2="493.6" y2="317.51" stroke="#ff77ff" stroke-width="0.8" /><line x1="492.5" y1="306.06" x2="494.7" y2="306.06" stroke="#ff77ff" stroke-width="0.9" /><line x1="492.5" y1="317.51" x2="494.7" y2="317.51" stroke="#ff77ff" stroke-width="0.9" /><line x1="506.2" y1="304.23" x2="506.2" y2="318.66" stroke="#8b1a1a" stroke-width="0.8" /><line x1="505.1" y1="304.23" x2="507.3" y2="304.23" stroke="#8b1a1a" stroke-width="0.9" /><line x1="505.1" y1="318.66" x2="507.3" y2="318.66" stroke="#8b1a1a" stroke-width="0.9" /><line x1="506.2" y1="310.64" x2="506.2" y2="319.34" stroke="#ff77ff" stroke-width="0.8" /><line x1="505.1" y1="310.64" x2="507.3" y2="310.64" stroke="#ff77ff" stroke-width="0.9" /><line x1="505.1" y1="319.34" x2="507.3" y2="319.34" stroke="#ff77ff" stroke-width="0.9" /><line x1="531.4" y1="301.94" x2="531.4" y2="317.05" stroke="#ff77ff" stroke-width="0.8" /><line x1="530.3" y1="301.94" x2="532.5" y2="301.94" stroke="#ff77ff" stroke-width="0.9" /><line x1="530.3" y1="317.05" x2="532.5" y2="317.05" stroke="#ff77ff" stroke-width="0.9" /><line x1="531.4" y1="303.31" x2="531.4" y2="311.79" stroke="#8b1a8b" stroke-width="0.8" /><line x1="530.3" y1="303.31" x2="532.5" y2="303.31" stroke="#8b1a8b" stroke-width="0.9" /><line x1="530.3" y1="311.79" x2="532.5" y2="311.79" stroke="#8b1a8b" stroke-width="0.9" /><line x1="531.4" y1="312.24" x2="531.4" y2="319.34" stroke="#8b1a1a" stroke-width="0.8" /><line x1="530.3" y1="312.24" x2="532.5" y2="312.24" stroke="#8b1a1a" stroke-width="0.9" /><line x1="530.3" y1="319.34" x2="532.5" y2="319.34" stroke="#8b1a1a" stroke-width="0.9" /><line x1="481" y1="193.85" x2="481" y2="320.4" stroke="#444" stroke-width="1.1" /><line x1="480.4" y1="319.8" x2="536" y2="319.8" stroke="#555" stroke-width="1.5" /><line x1="479.4" y1="319.8" x2="481" y2="319.8" stroke="#444" stroke-width="0.8" /><text x="479.4" y="322.7" font-size="8" font-weight="bold" text-anchor="end" textLength="6.6" lengthAdjust="spacingAndGlyphs" stroke="#000" stroke-width="0.15">10</text><line x1="479.4" y1="308.35" x2="481" y2="308.35" stroke="#444" stroke-width="0.8" /><text x="479.4" y="311.25" font-size="8" font-weight="bold" text-anchor="end" textLength="6.6" lengthAdjust="spacingAndGlyphs" stroke="#000" stroke-width="0.15">15</text><line x1="479.4" y1="296.9" x2="481" y2="296.9" stroke="#444" stroke-width="0.8" /><text x="479.4" y="299.8" font-size="8" font-weight="bold" text-anchor="end" textLength="6.6" lengthAdjust="spacingAndGlyphs" stroke="#000" stroke-width="0.15">20</text><line x1="479.4" y1="285.45" x2="481" y2="285.45" stroke="#444" stroke-width="0.8" /><text x="479.4" y="288.35" font-size="8" font-weight="bold" text-anchor="end" textLength="6.6" lengthAdjust="spacingAndGlyphs" stroke="#000" stroke-width="0.15">25</text><line x1="479.4" y1="274" x2="481" y2="274" stroke="#444" stroke-width="0.8" /><text x="479.4" y="276.9" font-size="8" font-weight="bold" text-anchor="end" textLength="6.6" lengthAdjust="spacingAndGlyphs" stroke="#000" stroke-width="0.15">30</text><line x1="479.4" y1="262.55" x2="481" y2="262.55" stroke="#444" stroke-width="0.8" /><text x="479.4" y="265.45" font-size="8" font-weight="bold" text-anchor="end" textLength="6.6" lengthAdjust="spacingAndGlyphs" stroke="#000" stroke-width="0.15">35</text><line x1="479.4" y1="251.1" x2="481" y2="251.1" stroke="#444" stroke-width="0.8" /><text x="479.4" y="254" font-size="8" font-weight="bold" text-anchor="end" textLength="6.6" lengthAdjust="spacingAndGlyphs" stroke="#000" stroke-width="0.15">40</text><line x1="479.4" y1="239.65" x2="481" y2="239.65" stroke="#444" stroke-width="0.8" /><text x="479.4" y="242.55" font-size="8" font-weight="bold" text-anchor="end" textLength="6.6" lengthAdjust="spacingAndGlyphs" stroke="#000" stroke-width="0.15">45</text><line x1="479.4" y1="228.2" x2="481" y2="228.2" stroke="#444" stroke-width="0.8" /><text x="479.4" y="231.1" font-size="8" font-weight="bold" text-anchor="end" textLength="6.6" lengthAdjust="spacingAndGlyphs" stroke="#000" stroke-width="0.15">50</text><line x1="479.4" y1="216.75" x2="481" y2="216.75" stroke="#444" stroke-width="0.8" /><text x="479.4" y="219.65" font-size="8" font-weight="bold" text-anchor="end" textLength="6.6" lengthAdjust="spacingAndGlyphs" stroke="#000" stroke-width="0.15">55</text><line x1="479.4" y1="205.3" x2="481" y2="205.3" stroke="#444" stroke-width="0.8" /><text x="479.4" y="208.2" font-size="8" font-weight="bold" text-anchor="end" textLength="6.6" lengthAdjust="spacingAndGlyphs" stroke="#000" stroke-width="0.15">60</text><line x1="479.4" y1="193.85" x2="481" y2="193.85" stroke="#444" stroke-width="0.8" /><text x="479.4" y="196.75" font-size="8" font-weight="bold" text-anchor="end" textLength="6.6" lengthAdjust="spacingAndGlyphs" stroke="#000" stroke-width="0.15">65</text><line x1="481" y1="319.8" x2="481" y2="321.4" stroke="#444" stroke-width="0.8" /><line x1="487.3" y1="319.8" x2="487.3" y2="320.8" stroke="#444" stroke-width="0.8" /><line x1="493.6" y1="319.8" x2="493.6" y2="321.4" stroke="#444" stroke-width="0.8" /><line x1="499.9" y1="319.8" x2="499.9" y2="320.8" stroke="#444" stroke-width="0.8" /><line x1="506.2" y1="319.8" x2="506.2" y2="321.4" stroke="#444" stroke-width="0.8" /><line x1="512.5" y1="319.8" x2="512.5" y2="320.8" stroke="#444" stroke-width="0.8" /><line x1="518.8" y1="319.8" x2="518.8" y2="321.4" stroke="#444" stroke-width="0.8" /><line x1="525.1" y1="319.8" x2="525.1" y2="320.8" stroke="#444" stroke-width="0.8" /><line x1="531.4" y1="319.8" x2="531.4" y2="321.4" stroke="#444" stroke-width="0.8" /><text x="481" y="330.7" font-size="8" font-weight="bold" text-anchor="middle" textLength="3.3" lengthAdjust="spacingAndGlyphs" stroke="#000" stroke-width="0.15">0</text><text x="493.6" y="330.7" font-size="8" font-weight="bold" text-anchor="middle" textLength="6.6" lengthAdjust="spacingAndGlyphs" stroke="#000" stroke-width="0.15">30</text><text x="506.2" y="330.7" font-size="8" font-weight="bold" text-anchor="middle" textLength="6.6" lengthAdjust="spacingAndGlyphs" stroke="#000" stroke-width="0.15">60</text><text x="518.8" y="330.7" font-size="8" font-weight="bold" text-anchor="middle" textLength="6.6" lengthAdjust="spacingAndGlyphs" stroke="#000" stroke-width="0.15">90</text><text x="531.4" y="330.7" font-size="8" font-weight="bold" text-anchor="middle" textLength="9.9" lengthAdjust="spacingAndGlyphs" stroke="#000" stroke-width="0.15">120</text><text x="508.1" y="338.8" font-size="8" font-weight="bold" text-anchor="middle" textLength="27.9" lengthAdjust="spacingAndGlyphs" stroke="#000" stroke-width="0.3">Time(min)</text><text x="495.7" y="184.8" font-size="8.4" font-weight="bold" textLength="28.6" lengthAdjust="spacingAndGlyphs" stroke="#000" stroke-width="0.15">PEGbPEI</text><polyline points="549.5,288.66 562.1,240.8 574.7,228.2 599.9,203.01" fill="none" stroke="#ff77ff" stroke-width="1.1"/><rect x="548.4" y="287.56" width="2.2" height="2.2" fill="#ff77ff"/><rect x="561" y="239.7" width="2.2" height="2.2" fill="#ff77ff"/><rect x="573.6" y="227.1" width="2.2" height="2.2" fill="#ff77ff"/><rect x="598.8" y="201.91" width="2.2" height="2.2" fill="#ff77ff"/><polyline points="549.5,288.66 562.1,270.79 574.7,238.5 599.9,201.87" fill="none" stroke="#8b1a1a" stroke-width="1.1"/><rect x="548.4" y="287.56" width="2.2" height="2.2" fill="#8b1a1a"/><rect x="561" y="269.69" width="2.2" height="2.2" fill="#8b1a1a"/><rect x="573.6" y="237.41" width="2.2" height="2.2" fill="#8b1a1a"/><rect x="598.8" y="200.77" width="2.2" height="2.2" fill="#8b1a1a"/><polyline points="549.5,288.66 562.1,287.28 574.7,285.91 599.9,286.6" fill="none" stroke="#8b1a8b" stroke-width="1.1"/><rect x="548.4" y="287.56" width="2.2" height="2.2" fill="#8b1a8b"/><rect x="561" y="286.18" width="2.2" height="2.2" fill="#8b1a8b"/><rect x="573.6" y="284.81" width="2.2" height="2.2" fill="#8b1a8b"/><rect x="598.8" y="285.5" width="2.2" height="2.2" fill="#8b1a8b"/><line x1="562.1" y1="235.07" x2="562.1" y2="247.67" stroke="#ff77ff" stroke-width="0.8" /><line x1="561" y1="235.07" x2="563.2" y2="235.07" stroke="#ff77ff" stroke-width="0.9" /><line x1="561" y1="247.67" x2="563.2" y2="247.67" stroke="#ff77ff" stroke-width="0.9" /><line x1="574.7" y1="220.19" x2="574.7" y2="235.53" stroke="#ff77ff" stroke-width="0.8" /><line x1="573.6" y1="220.19" x2="575.8" y2="220.19" stroke="#ff77ff" stroke-width="0.9" /><line x1="573.6" y1="235.53" x2="575.8" y2="235.53" stroke="#ff77ff" stroke-width="0.9" /><line x1="599.9" y1="194.31" x2="599.9" y2="213.31" stroke="#ff77ff" stroke-width="0.8" /><line x1="598.8" y1="194.31" x2="601" y2="194.31" stroke="#ff77ff" stroke-width="0.9" /><line x1="598.8" y1="213.31" x2="601" y2="213.31" stroke="#ff77ff" stroke-width="0.9" /><line x1="562.1" y1="263.69" x2="562.1" y2="275.14" stroke="#8b1a1a" stroke-width="0.8" /><line x1="561" y1="263.69" x2="563.2" y2="263.69" stroke="#8b1a1a" stroke-width="0.9" /><line x1="561" y1="275.14" x2="563.2" y2="275.14" stroke="#8b1a1a" stroke-width="0.9" /><line x1="574.7" y1="227.06" x2="574.7" y2="249.96" stroke="#8b1a1a" stroke-width="0.8" /><line x1="573.6" y1="227.06" x2="575.8" y2="227.06" stroke="#8b1a1a" stroke-width="0.9" /><line x1="573.6" y1="249.96" x2="575.8" y2="249.96" stroke="#8b1a1a" stroke-width="0.9" /><line x1="599.9" y1="196.14" x2="599.9" y2="207.59" stroke="#8b1a1a" stroke-width="0.8" /><line x1="598.8" y1="196.14" x2="601" y2="196.14" stroke="#8b1a1a" stroke-width="0.9" /><line x1="598.8" y1="207.59" x2="601" y2="207.59" stroke="#8b1a1a" stroke-width="0.9" /><line x1="562.1" y1="279.73" x2="562.1" y2="295.07" stroke="#8b1a8b" stroke-width="0.8" /><line x1="561" y1="279.73" x2="563.2" y2="279.73" stroke="#8b1a8b" stroke-width="0.9" /><line x1="561" y1="295.07" x2="563.2" y2="295.07" stroke="#8b1a8b" stroke-width="0.9" /><line x1="574.7" y1="280.41" x2="574.7" y2="292.32" stroke="#8b1a8b" stroke-width="0.8" /><line x1="573.6" y1="280.41" x2="575.8" y2="280.41" stroke="#8b1a8b" stroke-width="0.9" /><line x1="573.6" y1="292.32" x2="575.8" y2="292.32" stroke="#8b1a8b" stroke-width="0.9" /><line x1="599.9" y1="281.56" x2="599.9" y2="292.09" stroke="#8b1a8b" stroke-width="0.8" /><line x1="598.8" y1="281.56" x2="601" y2="281.56" stroke="#8b1a8b" stroke-width="0.9" /><line x1="598.8" y1="292.09" x2="601" y2="292.09" stroke="#8b1a8b" stroke-width="0.9" /><line x1="549.5" y1="193.85" x2="549.5" y2="320.4" stroke="#444" stroke-width="1.1" /><line x1="548.9" y1="319.8" x2="604.3" y2="319.8" stroke="#555" stroke-width="1.5" /><line x1="547.9" y1="319.8" x2="549.5" y2="319.8" stroke="#444" stroke-width="0.8" /><text x="547.9" y="322.7" font-size="8" font-weight="bold" text-anchor="end" textLength="6.6" lengthAdjust="spacingAndGlyphs" stroke="#000" stroke-width="0.15">10</text><line x1="547.9" y1="308.35" x2="549.5" y2="308.35" stroke="#444" stroke-width="0.8" /><text x="547.9" y="311.25" font-size="8" font-weight="bold" text-anchor="end" textLength="6.6" lengthAdjust="spacingAndGlyphs" stroke="#000" stroke-width="0.15">15</text><line x1="547.9" y1="296.9" x2="549.5" y2="296.9" stroke="#444" stroke-width="0.8" /><text x="547.9" y="299.8" font-size="8" font-weight="bold" text-anchor="end" textLength="6.6" lengthAdjust="spacingAndGlyphs" stroke="#000" stroke-width="0.15">20</text><line x1="547.9" y1="285.45" x2="549.5" y2="285.45" stroke="#444" stroke-width="0.8" /><text x="547.9" y="288.35" font-size="8" font-weight="bold" text-anchor="end" textLength="6.6" lengthAdjust="spacingAndGlyphs" stroke="#000" stroke-width="0.15">25</text><line x1="547.9" y1="274" x2="549.5" y2="274" stroke="#444" stroke-width="0.8" /><text x="547.9" y="276.9" font-size="8" font-weight="bold" text-anchor="end" textLength="6.6" lengthAdjust="spacingAndGlyphs" stroke="#000" stroke-width="0.15">30</text><line x1="547.9" y1="262.55" x2="549.5" y2="262.55" stroke="#444" stroke-width="0.8" /><text x="547.9" y="265.45" font-size="8" font-weight="bold" text-anchor="end" textLength="6.6" lengthAdjust="spacingAndGlyphs" stroke="#000" stroke-width="0.15">35</text><line x1="547.9" y1="251.1" x2="549.5" y2="251.1" stroke="#444" stroke-width="0.8" /><text x="547.9" y="254" font-size="8" font-weight="bold" text-anchor="end" textLength="6.6" lengthAdjust="spacingAndGlyphs" stroke="#000" stroke-width="0.15">40</text><line x1="547.9" y1="239.65" x2="549.5" y2="239.65" stroke="#444" stroke-width="0.8" /><text x="547.9" y="242.55" font-size="8" font-weight="bold" text-anchor="end" textLength="6.6" lengthAdjust="spacingAndGlyphs" stroke="#000" stroke-width="0.15">45</text><line x1="547.9" y1="228.2" x2="549.5" y2="228.2" stroke="#444" stroke-width="0.8" /><text x="547.9" y="231.1" font-size="8" font-weight="bold" text-anchor="end" textLength="6.6" lengthAdjust="spacingAndGlyphs" stroke="#000" stroke-width="0.15">50</text><line x1="547.9" y1="216.75" x2="549.5" y2="216.75" stroke="#444" stroke-width="0.8" /><text x="547.9" y="219.65" font-size="8" font-weight="bold" text-anchor="end" textLength="6.6" lengthAdjust="spacingAndGlyphs" stroke="#000" stroke-width="0.15">55</text><line x1="547.9" y1="205.3" x2="549.5" y2="205.3" stroke="#444" stroke-width="0.8" /><text x="547.9" y="208.2" font-size="8" font-weight="bold" text-anchor="end" textLength="6.6" lengthAdjust="spacingAndGlyphs" stroke="#000" stroke-width="0.15">60</text><line x1="547.9" y1="193.85" x2="549.5" y2="193.85" stroke="#444" stroke-width="0.8" /><text x="547.9" y="196.75" font-size="8" font-weight="bold" text-anchor="end" textLength="6.6" lengthAdjust="spacingAndGlyphs" stroke="#000" stroke-width="0.15">65</text><line x1="549.5" y1="319.8" x2="549.5" y2="321.4" stroke="#444" stroke-width="0.8" /><line x1="555.8" y1="319.8" x2="555.8" y2="320.8" stroke="#444" stroke-width="0.8" /><line x1="562.1" y1="319.8" x2="562.1" y2="321.4" stroke="#444" stroke-width="0.8" /><line x1="568.4" y1="319.8" x2="568.4" y2="320.8" stroke="#444" stroke-width="0.8" /><line x1="574.7" y1="319.8" x2="574.7" y2="321.4" stroke="#444" stroke-width="0.8" /><line x1="581" y1="319.8" x2="581" y2="320.8" stroke="#444" stroke-width="0.8" /><line x1="587.3" y1="319.8" x2="587.3" y2="321.4" stroke="#444" stroke-width="0.8" /><line x1="593.6" y1="319.8" x2="593.6" y2="320.8" stroke="#444" stroke-width="0.8" /><line x1="599.9" y1="319.8" x2="599.9" y2="321.4" stroke="#444" stroke-width="0.8" /><text x="549.5" y="330.7" font-size="8" font-weight="bold" text-anchor="middle" textLength="3.3" lengthAdjust="spacingAndGlyphs" stroke="#000" stroke-width="0.15">0</text><text x="562.1" y="330.7" font-size="8" font-weight="bold" text-anchor="middle" textLength="6.6" lengthAdjust="spacingAndGlyphs" stroke="#000" stroke-width="0.15">30</text><text x="574.7" y="330.7" font-size="8" font-weight="bold" text-anchor="middle" textLength="6.6" lengthAdjust="spacingAndGlyphs" stroke="#000" stroke-width="0.15">60</text><text x="587.3" y="330.7" font-size="8" font-weight="bold" text-anchor="middle" textLength="6.6" lengthAdjust="spacingAndGlyphs" stroke="#000" stroke-width="0.15">90</text><text x="599.9" y="330.7" font-size="8" font-weight="bold" text-anchor="middle" textLength="9.9" lengthAdjust="spacingAndGlyphs" stroke="#000" stroke-width="0.15">120</text><text x="576.6" y="338.8" font-size="8" font-weight="bold" text-anchor="middle" textLength="27.9" lengthAdjust="spacingAndGlyphs" stroke="#000" stroke-width="0.3">Time(min)</text><text x="560.3" y="186" font-size="8.4" font-weight="bold" textLength="33" lengthAdjust="spacingAndGlyphs" stroke="#000" stroke-width="0.15">PEGs-PEI-1</text><polyline points="617.8,312.24 630.4,252.25 643,231.41 668.2,208.51" fill="none" stroke="#ff77ff" stroke-width="1.1"/><rect x="616.7" y="311.14" width="2.2" height="2.2" fill="#ff77ff"/><rect x="629.3" y="251.15" width="2.2" height="2.2" fill="#ff77ff"/><rect x="641.9" y="230.31" width="2.2" height="2.2" fill="#ff77ff"/><rect x="667.1" y="207.41" width="2.2" height="2.2" fill="#ff77ff"/><polyline points="617.8,312.24 630.4,294.15 643,272.17 668.2,247.44" fill="none" stroke="#8b1a1a" stroke-width="1.1"/><rect x="616.7" y="311.14" width="2.2" height="2.2" fill="#8b1a1a"/><rect x="629.3" y="293.05" width="2.2" height="2.2" fill="#8b1a1a"/><rect x="641.9" y="271.07" width="2.2" height="2.2" fill="#8b1a1a"/><rect x="667.1" y="246.34" width="2.2" height="2.2" fill="#8b1a1a"/><polyline points="617.8,312.24 630.4,311.33 643,310.41 668.2,310.87" fill="none" stroke="#8b1a8b" stroke-width="1.1"/><rect x="616.7" y="311.14" width="2.2" height="2.2" fill="#8b1a8b"/><rect x="629.3" y="310.23" width="2.2" height="2.2" fill="#8b1a8b"/><rect x="641.9" y="309.31" width="2.2" height="2.2" fill="#8b1a8b"/><rect x="667.1" y="309.77" width="2.2" height="2.2" fill="#8b1a8b"/><line x1="630.4" y1="246.98" x2="630.4" y2="256.82" stroke="#ff77ff" stroke-width="0.8" /><line x1="629.3" y1="246.98" x2="631.5" y2="246.98" stroke="#ff77ff" stroke-width="0.9" /><line x1="629.3" y1="256.82" x2="631.5" y2="256.82" stroke="#ff77ff" stroke-width="0.9" /><line x1="643" y1="224.08" x2="643" y2="239.65" stroke="#ff77ff" stroke-width="0.8" /><line x1="641.9" y1="224.08" x2="644.1" y2="224.08" stroke="#ff77ff" stroke-width="0.9" /><line x1="641.9" y1="239.65" x2="644.1" y2="239.65" stroke="#ff77ff" stroke-width="0.9" /><line x1="668.2" y1="201.41" x2="668.2" y2="216.06" stroke="#ff77ff" stroke-width="0.8" /><line x1="667.1" y1="201.41" x2="669.3" y2="201.41" stroke="#ff77ff" stroke-width="0.9" /><line x1="667.1" y1="216.06" x2="669.3" y2="216.06" stroke="#ff77ff" stroke-width="0.9" /><line x1="630.4" y1="287.05" x2="630.4" y2="301.02" stroke="#8b1a1a" stroke-width="0.8" /><line x1="629.3" y1="287.05" x2="631.5" y2="287.05" stroke="#8b1a1a" stroke-width="0.9" /><line x1="629.3" y1="301.02" x2="631.5" y2="301.02" stroke="#8b1a1a" stroke-width="0.9" /><line x1="643" y1="264.84" x2="643" y2="279.95" stroke="#8b1a1a" stroke-width="0.8" /><line x1="641.9" y1="264.84" x2="644.1" y2="264.84" stroke="#8b1a1a" stroke-width="0.9" /><line x1="641.9" y1="279.95" x2="644.1" y2="279.95" stroke="#8b1a1a" stroke-width="0.9" /><line x1="668.2" y1="237.36" x2="668.2" y2="257.51" stroke="#8b1a1a" stroke-width="0.8" /><line x1="667.1" y1="237.36" x2="669.3" y2="237.36" stroke="#8b1a1a" stroke-width="0.9" /><line x1="667.1" y1="257.51" x2="669.3" y2="257.51" stroke="#8b1a1a" stroke-width="0.9" /><line x1="630.4" y1="303.77" x2="630.4" y2="318.88" stroke="#8b1a8b" stroke-width="0.8" /><line x1="629.3" y1="303.77" x2="631.5" y2="303.77" stroke="#8b1a8b" stroke-width="0.9" /><line x1="629.3" y1="318.88" x2="631.5" y2="318.88" stroke="#8b1a8b" stroke-width="0.9" /><line x1="643" y1="306.52" x2="643" y2="314.07" stroke="#8b1a8b" stroke-width="0.8" /><line x1="641.9" y1="306.52" x2="644.1" y2="306.52" stroke="#8b1a8b" stroke-width="0.9" /><line x1="641.9" y1="314.07" x2="644.1" y2="314.07" stroke="#8b1a8b" stroke-width="0.9" /><line x1="668.2" y1="303.77" x2="668.2" y2="318.88" stroke="#8b1a8b" stroke-width="0.8" /><line x1="667.1" y1="303.77" x2="669.3" y2="303.77" stroke="#8b1a8b" stroke-width="0.9" /><line x1="667.1" y1="318.88" x2="669.3" y2="318.88" stroke="#8b1a8b" stroke-width="0.9" /><line x1="617.8" y1="193.85" x2="617.8" y2="320.4" stroke="#444" stroke-width="1.1" /><line x1="617.2" y1="319.8" x2="674" y2="319.8" stroke="#555" stroke-width="1.5" /><line x1="616.2" y1="319.8" x2="617.8" y2="319.8" stroke="#444" stroke-width="0.8" /><text x="616.2" y="322.7" font-size="8" font-weight="bold" text-anchor="end" textLength="6.6" lengthAdjust="spacingAndGlyphs" stroke="#000" stroke-width="0.15">10</text><line x1="616.2" y1="308.35" x2="617.8" y2="308.35" stroke="#444" stroke-width="0.8" /><text x="616.2" y="311.25" font-size="8" font-weight="bold" text-anchor="end" textLength="6.6" lengthAdjust="spacingAndGlyphs" stroke="#000" stroke-width="0.15">15</text><line x1="616.2" y1="296.9" x2="617.8" y2="296.9" stroke="#444" stroke-width="0.8" /><text x="616.2" y="299.8" font-size="8" font-weight="bold" text-anchor="end" textLength="6.6" lengthAdjust="spacingAndGlyphs" stroke="#000" stroke-width="0.15">20</text><line x1="616.2" y1="285.45" x2="617.8" y2="285.45" stroke="#444" stroke-width="0.8" /><text x="616.2" y="288.35" font-size="8" font-weight="bold" text-anchor="end" textLength="6.6" lengthAdjust="spacingAndGlyphs" stroke="#000" stroke-width="0.15">25</text><line x1="616.2" y1="274" x2="617.8" y2="274" stroke="#444" stroke-width="0.8" /><text x="616.2" y="276.9" font-size="8" font-weight="bold" text-anchor="end" textLength="6.6" lengthAdjust="spacingAndGlyphs" stroke="#000" stroke-width="0.15">30</text><line x1="616.2" y1="262.55" x2="617.8" y2="262.55" stroke="#444" stroke-width="0.8" /><text x="616.2" y="265.45" font-size="8" font-weight="bold" text-anchor="end" textLength="6.6" lengthAdjust="spacingAndGlyphs" stroke="#000" stroke-width="0.15">35</text><line x1="616.2" y1="251.1" x2="617.8" y2="251.1" stroke="#444" stroke-width="0.8" /><text x="616.2" y="254" font-size="8" font-weight="bold" text-anchor="end" textLength="6.6" lengthAdjust="spacingAndGlyphs" stroke="#000" stroke-width="0.15">40</text><line x1="616.2" y1="239.65" x2="617.8" y2="239.65" stroke="#444" stroke-width="0.8" /><text x="616.2" y="242.55" font-size="8" font-weight="bold" text-anchor="end" textLength="6.6" lengthAdjust="spacingAndGlyphs" stroke="#000" stroke-width="0.15">45</text><line x1="616.2" y1="228.2" x2="617.8" y2="228.2" stroke="#444" stroke-width="0.8" /><text x="616.2" y="231.1" font-size="8" font-weight="bold" text-anchor="end" textLength="6.6" lengthAdjust="spacingAndGlyphs" stroke="#000" stroke-width="0.15">50</text><line x1="616.2" y1="216.75" x2="617.8" y2="216.75" stroke="#444" stroke-width="0.8" /><text x="616.2" y="219.65" font-size="8" font-weight="bold" text-anchor="end" textLength="6.6" lengthAdjust="spacingAndGlyphs" stroke="#000" stroke-width="0.15">55</text><line x1="616.2" y1="205.3" x2="617.8" y2="205.3" stroke="#444" stroke-width="0.8" /><text x="616.2" y="208.2" font-size="8" font-weight="bold" text-anchor="end" textLength="6.6" lengthAdjust="spacingAndGlyphs" stroke="#000" stroke-width="0.15">60</text><line x1="616.2" y1="193.85" x2="617.8" y2="193.85" stroke="#444" stroke-width="0.8" /><text x="616.2" y="196.75" font-size="8" font-weight="bold" text-anchor="end" textLength="6.6" lengthAdjust="spacingAndGlyphs" stroke="#000" stroke-width="0.15">65</text><line x1="617.8" y1="319.8" x2="617.8" y2="321.4" stroke="#444" stroke-width="0.8" /><line x1="624.1" y1="319.8" x2="624.1" y2="320.8" stroke="#444" stroke-width="0.8" /><line x1="630.4" y1="319.8" x2="630.4" y2="321.4" stroke="#444" stroke-width="0.8" /><line x1="636.7" y1="319.8" x2="636.7" y2="320.8" stroke="#444" stroke-width="0.8" /><line x1="643" y1="319.8" x2="643" y2="321.4" stroke="#444" stroke-width="0.8" /><line x1="649.3" y1="319.8" x2="649.3" y2="320.8" stroke="#444" stroke-width="0.8" /><line x1="655.6" y1="319.8" x2="655.6" y2="321.4" stroke="#444" stroke-width="0.8" /><line x1="661.9" y1="319.8" x2="661.9" y2="320.8" stroke="#444" stroke-width="0.8" /><line x1="668.2" y1="319.8" x2="668.2" y2="321.4" stroke="#444" stroke-width="0.8" /><text x="617.8" y="330.7" font-size="8" font-weight="bold" text-anchor="middle" textLength="3.3" lengthAdjust="spacingAndGlyphs" stroke="#000" stroke-width="0.15">0</text><text x="630.4" y="330.7" font-size="8" font-weight="bold" text-anchor="middle" textLength="6.6" lengthAdjust="spacingAndGlyphs" stroke="#000" stroke-width="0.15">30</text><text x="643" y="330.7" font-size="8" font-weight="bold" text-anchor="middle" textLength="6.6" lengthAdjust="spacingAndGlyphs" stroke="#000" stroke-width="0.15">60</text><text x="655.6" y="330.7" font-size="8" font-weight="bold" text-anchor="middle" textLength="6.6" lengthAdjust="spacingAndGlyphs" stroke="#000" stroke-width="0.15">90</text><text x="668.2" y="330.7" font-size="8" font-weight="bold" text-anchor="middle" textLength="9.9" lengthAdjust="spacingAndGlyphs" stroke="#000" stroke-width="0.15">120</text><text x="644.9" y="338.8" font-size="8" font-weight="bold" text-anchor="middle" textLength="27.9" lengthAdjust="spacingAndGlyphs" stroke="#000" stroke-width="0.3">Time(min)</text><text x="625.3" y="186.1" font-size="8.4" font-weight="bold" textLength="34.7" lengthAdjust="spacingAndGlyphs" stroke="#000" stroke-width="0.15">PEGs-PEI-2</text><line x1="488" y1="261.6" x2="498.9" y2="261.6" stroke="#8b1a8b" stroke-width="1.1" /><rect x="493.3" y="260.7" width="1.8" height="1.8" fill="#8b1a8b"/><text x="501.3" y="264.7" font-size="9" font-weight="bold" textLength="21.4" lengthAdjust="spacingAndGlyphs">pH7.4</text><line x1="488" y1="274.6" x2="498.9" y2="274.6" stroke="#8b1a1a" stroke-width="1.1" /><rect x="493.3" y="273.7" width="1.8" height="1.8" fill="#8b1a1a"/><text x="501.3" y="277.7" font-size="9" font-weight="bold" textLength="21.4" lengthAdjust="spacingAndGlyphs">pH6.5</text><line x1="488" y1="287.2" x2="498.9" y2="287.2" stroke="#ff77ff" stroke-width="1.1" /><rect x="493.3" y="286.3" width="1.8" height="1.8" fill="#ff77ff"/><text x="501.3" y="290.3" font-size="9" font-weight="bold" textLength="21.4" lengthAdjust="spacingAndGlyphs">pH5.5</text><text transform="translate(468.8,301.2) rotate(-90)" font-size="9.6" textLength="77.4" lengthAdjust="spacingAndGlyphs" stroke="#000" stroke-width="0.25">zeta potential(mV)</text>
</svg></body></html>
